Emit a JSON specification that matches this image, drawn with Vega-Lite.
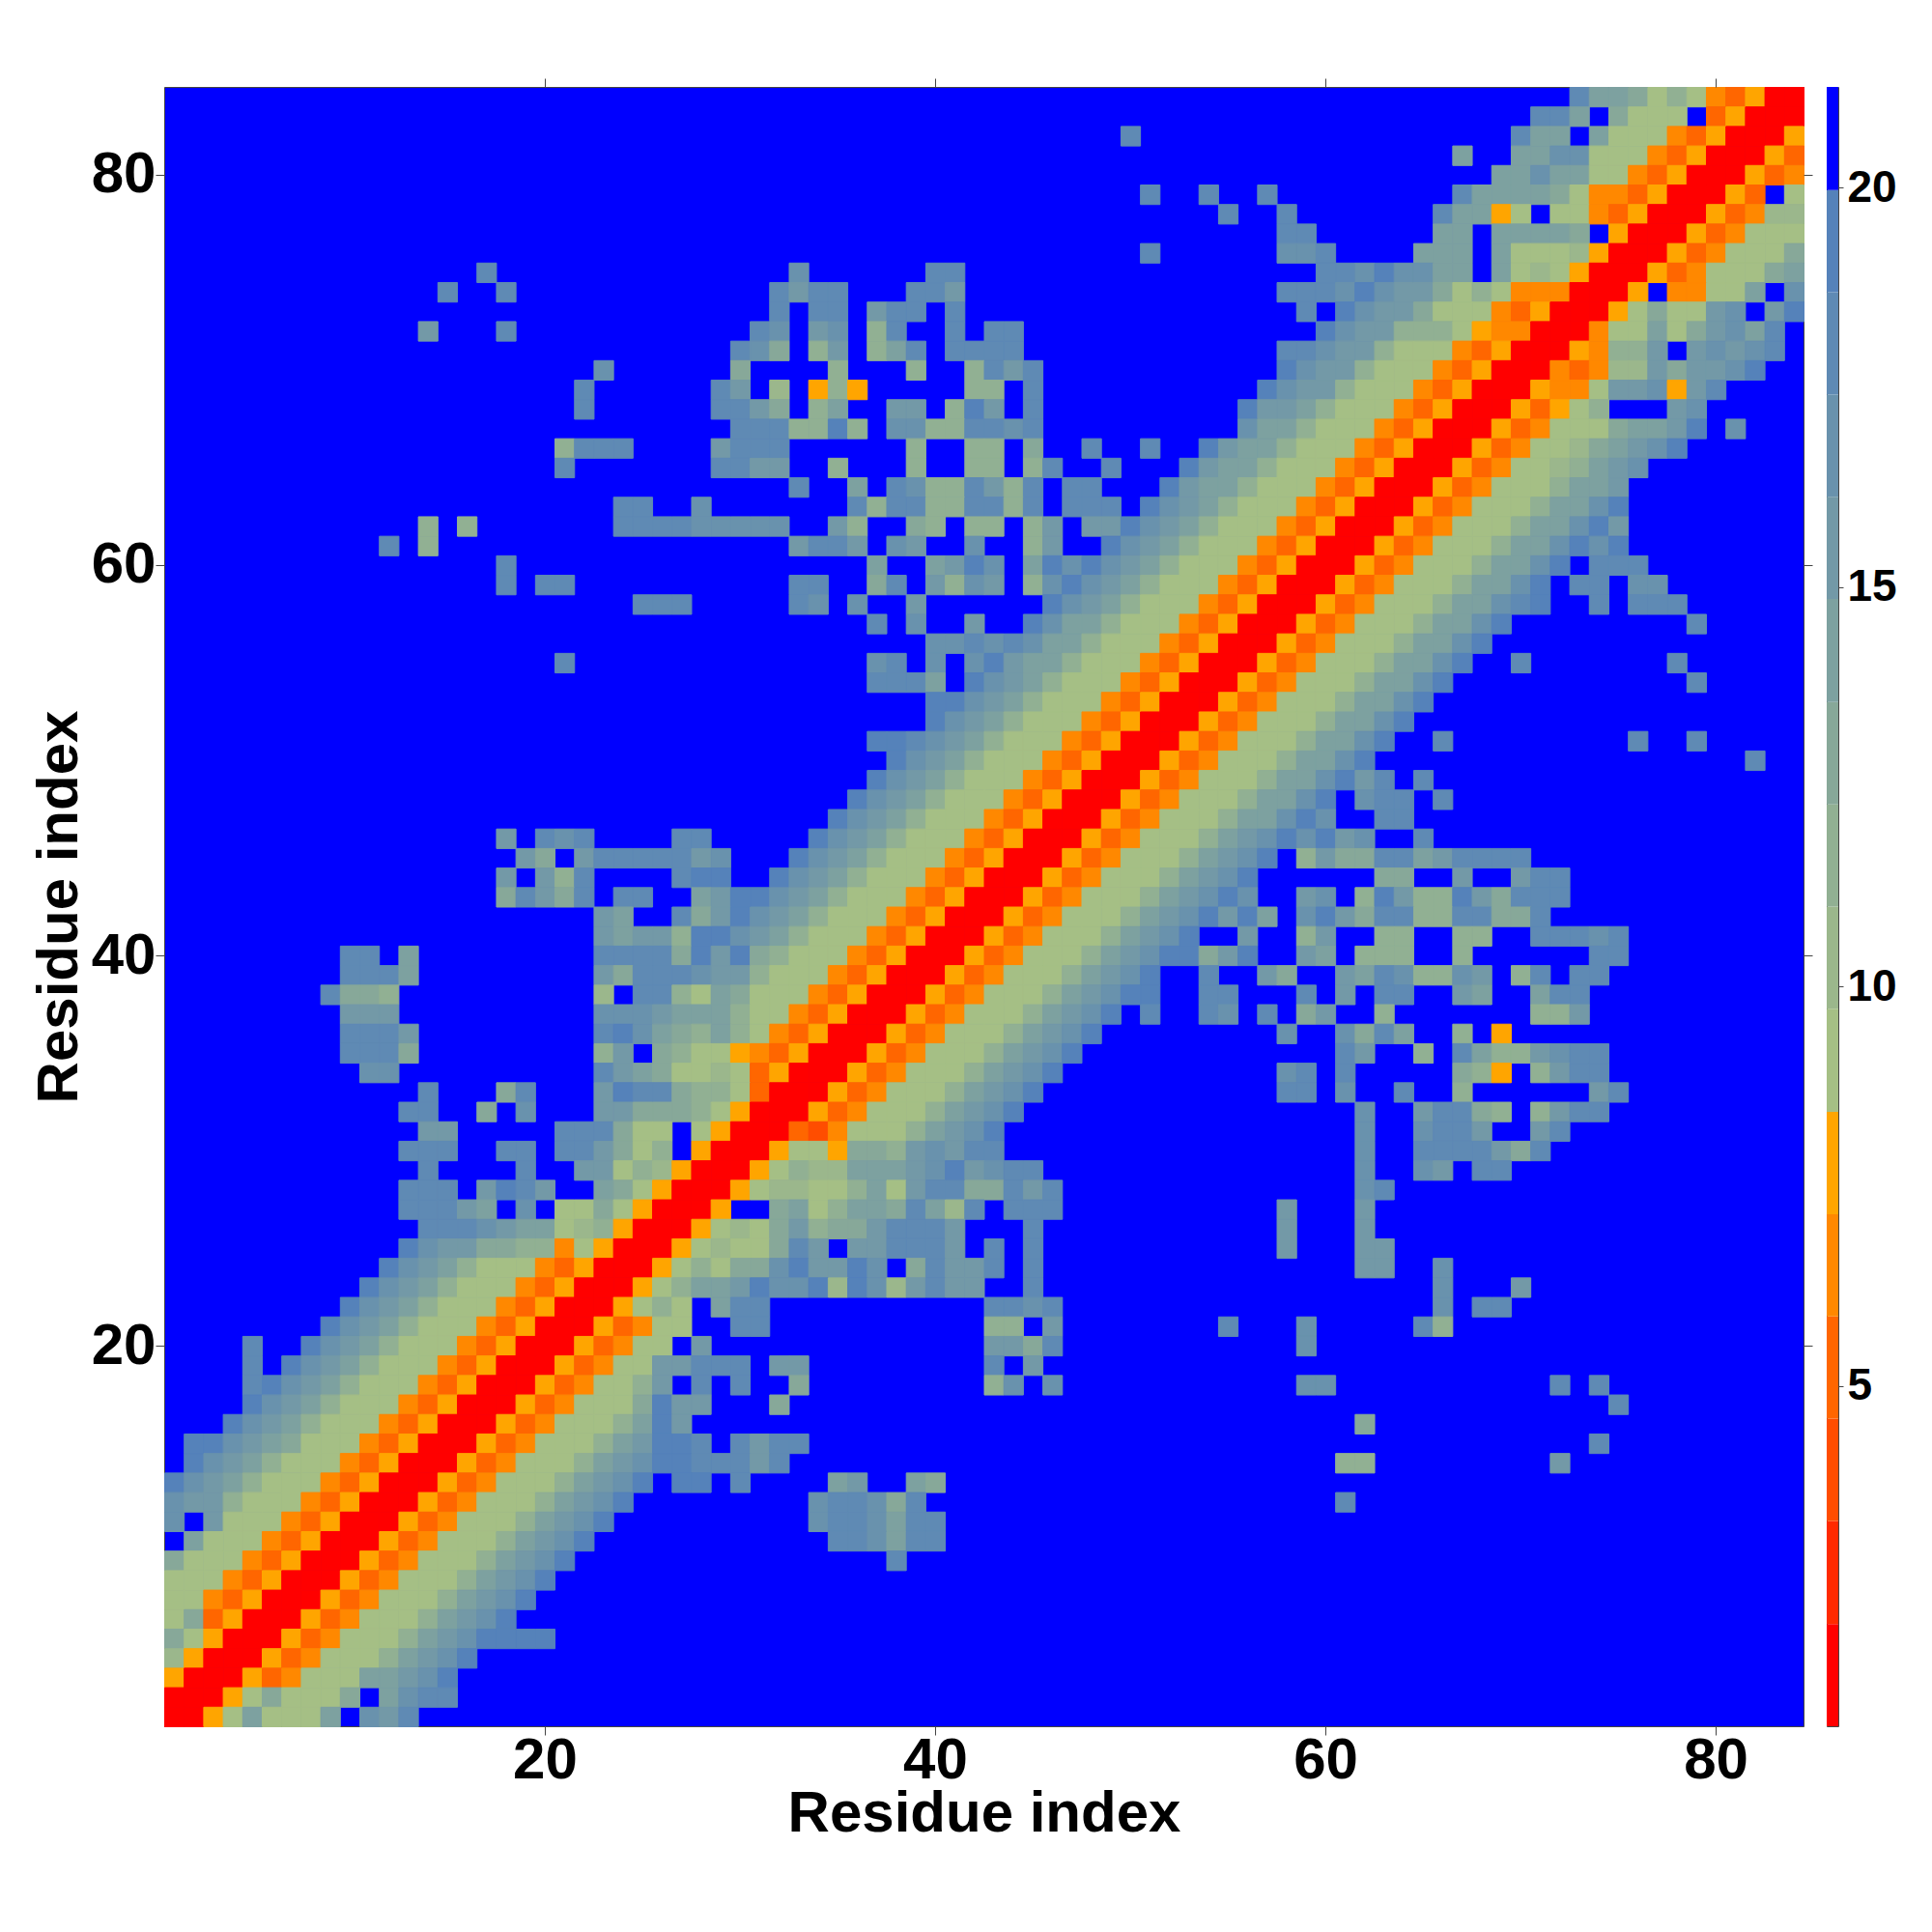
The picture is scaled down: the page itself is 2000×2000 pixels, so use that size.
{"$schema":"https://vega.github.io/schema/vega-lite/v6.json","background":"white","padding":{"left":30,"top":80,"right":0,"bottom":0},"spacing":13,"hconcat":[{"width":1697,"height":1697,"view":{"fill":"#0000ff","stroke":"#444444","strokeWidth":1},"layer":[{"data":{"values":[
{"x":73,"y":84,"d":18},{"x":74,"y":84,"d":14.2},{"x":75,"y":84,"d":14.2},{"x":76,"y":84,"d":12.9},{"x":77,"y":84,"d":9.1},{"x":78,"y":84,"d":11.6},{"x":79,"y":84,"d":9.1},{"x":80,"y":84,"d":6.5},{"x":81,"y":84,"d":5.2},{"x":82,"y":84,"d":7.8},{"x":83,"y":84,"d":1.4},{"x":84,"y":84,"d":1.4},
{"x":71,"y":83,"d":18},{"x":72,"y":83,"d":18},{"x":73,"y":83,"d":14.2},{"x":75,"y":83,"d":12.9},{"x":76,"y":83,"d":9.1},{"x":77,"y":83,"d":9.1},{"x":78,"y":83,"d":9.1},{"x":80,"y":83,"d":5.2},{"x":81,"y":83,"d":7.8},{"x":82,"y":83,"d":1.4},{"x":83,"y":83,"d":1.4},{"x":84,"y":83,"d":1.4},
{"x":50,"y":82,"d":18},{"x":70,"y":82,"d":18},{"x":71,"y":82,"d":14.2},{"x":72,"y":82,"d":14.2},{"x":74,"y":82,"d":14.2},{"x":75,"y":82,"d":9.1},{"x":76,"y":82,"d":9.1},{"x":77,"y":82,"d":9.1},{"x":78,"y":82,"d":6.5},{"x":79,"y":82,"d":5.2},{"x":80,"y":82,"d":7.8},{"x":81,"y":82,"d":1.4},{"x":82,"y":82,"d":1.4},{"x":83,"y":82,"d":1.4},{"x":84,"y":82,"d":7.8},
{"x":67,"y":81,"d":14.2},{"x":70,"y":81,"d":14.2},{"x":71,"y":81,"d":14.2},{"x":72,"y":81,"d":16.8},{"x":73,"y":81,"d":16.8},{"x":74,"y":81,"d":9.1},{"x":75,"y":81,"d":9.1},{"x":76,"y":81,"d":9.1},{"x":77,"y":81,"d":6.5},{"x":78,"y":81,"d":5.2},{"x":79,"y":81,"d":7.8},{"x":80,"y":81,"d":1.4},{"x":81,"y":81,"d":1.4},{"x":82,"y":81,"d":1.4},{"x":83,"y":81,"d":7.8},{"x":84,"y":81,"d":5.2},
{"x":69,"y":80,"d":14.2},{"x":70,"y":80,"d":14.2},{"x":71,"y":80,"d":16.8},{"x":72,"y":80,"d":14.2},{"x":73,"y":80,"d":14.2},{"x":74,"y":80,"d":9.1},{"x":75,"y":80,"d":9.1},{"x":76,"y":80,"d":6.5},{"x":77,"y":80,"d":5.2},{"x":78,"y":80,"d":7.8},{"x":79,"y":80,"d":1.4},{"x":80,"y":80,"d":1.4},{"x":81,"y":80,"d":1.4},{"x":82,"y":80,"d":7.8},{"x":83,"y":80,"d":5.2},{"x":84,"y":80,"d":6.5},
{"x":51,"y":79,"d":18},{"x":54,"y":79,"d":18},{"x":57,"y":79,"d":18},{"x":67,"y":79,"d":18},{"x":68,"y":79,"d":14.2},{"x":69,"y":79,"d":14.2},{"x":70,"y":79,"d":14.2},{"x":71,"y":79,"d":14.2},{"x":72,"y":79,"d":12.9},{"x":73,"y":79,"d":9.1},{"x":74,"y":79,"d":6.5},{"x":75,"y":79,"d":6.5},{"x":76,"y":79,"d":5.2},{"x":77,"y":79,"d":7.8},{"x":78,"y":79,"d":1.4},{"x":79,"y":79,"d":1.4},{"x":80,"y":79,"d":1.4},{"x":81,"y":79,"d":7.8},{"x":82,"y":79,"d":5.2},{"x":84,"y":79,"d":9.1},
{"x":55,"y":78,"d":18},{"x":58,"y":78,"d":18},{"x":66,"y":78,"d":18},{"x":67,"y":78,"d":14.2},{"x":68,"y":78,"d":14.2},{"x":69,"y":78,"d":7.8},{"x":70,"y":78,"d":9.1},{"x":72,"y":78,"d":9.1},{"x":73,"y":78,"d":9.1},{"x":74,"y":78,"d":6.5},{"x":75,"y":78,"d":5.2},{"x":76,"y":78,"d":7.8},{"x":77,"y":78,"d":1.4},{"x":78,"y":78,"d":1.4},{"x":79,"y":78,"d":1.4},{"x":80,"y":78,"d":7.8},{"x":81,"y":78,"d":5.2},{"x":82,"y":78,"d":6.5},{"x":83,"y":78,"d":10.4},{"x":84,"y":78,"d":10.4},
{"x":58,"y":77,"d":18},{"x":59,"y":77,"d":18},{"x":66,"y":77,"d":14.2},{"x":67,"y":77,"d":14.2},{"x":69,"y":77,"d":14.2},{"x":70,"y":77,"d":14.2},{"x":71,"y":77,"d":14.2},{"x":72,"y":77,"d":14.2},{"x":73,"y":77,"d":12.9},{"x":75,"y":77,"d":7.8},{"x":76,"y":77,"d":1.4},{"x":77,"y":77,"d":1.4},{"x":78,"y":77,"d":1.4},{"x":79,"y":77,"d":7.8},{"x":80,"y":77,"d":5.2},{"x":81,"y":77,"d":6.5},{"x":82,"y":77,"d":9.1},{"x":83,"y":77,"d":9.1},{"x":84,"y":77,"d":9.1},
{"x":51,"y":76,"d":18},{"x":58,"y":76,"d":16.8},{"x":59,"y":76,"d":16.8},{"x":60,"y":76,"d":18},{"x":65,"y":76,"d":14.2},{"x":66,"y":76,"d":14.2},{"x":67,"y":76,"d":14.2},{"x":69,"y":76,"d":14.2},{"x":70,"y":76,"d":9.1},{"x":71,"y":76,"d":9.1},{"x":72,"y":76,"d":9.1},{"x":73,"y":76,"d":10.4},{"x":74,"y":76,"d":7.8},{"x":75,"y":76,"d":1.4},{"x":76,"y":76,"d":1.4},{"x":77,"y":76,"d":1.4},{"x":78,"y":76,"d":7.8},{"x":79,"y":76,"d":5.2},{"x":80,"y":76,"d":6.5},{"x":81,"y":76,"d":9.1},{"x":82,"y":76,"d":9.1},{"x":83,"y":76,"d":9.1},{"x":84,"y":76,"d":12.9},
{"x":17,"y":75,"d":18},{"x":33,"y":75,"d":16.8},{"x":40,"y":75,"d":18},{"x":41,"y":75,"d":18},{"x":60,"y":75,"d":18},{"x":61,"y":75,"d":18},{"x":62,"y":75,"d":16.8},{"x":63,"y":75,"d":19.3},{"x":64,"y":75,"d":16.8},{"x":65,"y":75,"d":16.8},{"x":66,"y":75,"d":14.2},{"x":67,"y":75,"d":14.2},{"x":69,"y":75,"d":14.2},{"x":70,"y":75,"d":9.1},{"x":71,"y":75,"d":10.4},{"x":72,"y":75,"d":9.1},{"x":73,"y":75,"d":7.8},{"x":74,"y":75,"d":1.4},{"x":75,"y":75,"d":1.4},{"x":76,"y":75,"d":1.4},{"x":77,"y":75,"d":7.8},{"x":78,"y":75,"d":5.2},{"x":79,"y":75,"d":6.5},{"x":80,"y":75,"d":9.1},{"x":81,"y":75,"d":9.1},{"x":82,"y":75,"d":9.1},{"x":83,"y":75,"d":12.9},{"x":84,"y":75,"d":14.2},
{"x":15,"y":74,"d":18},{"x":18,"y":74,"d":18},{"x":32,"y":74,"d":18},{"x":33,"y":74,"d":15.5},{"x":34,"y":74,"d":18},{"x":35,"y":74,"d":18},{"x":39,"y":74,"d":18},{"x":40,"y":74,"d":18},{"x":41,"y":74,"d":15.5},{"x":58,"y":74,"d":18},{"x":59,"y":74,"d":18},{"x":60,"y":74,"d":18},{"x":61,"y":74,"d":16.8},{"x":62,"y":74,"d":19.3},{"x":63,"y":74,"d":16.8},{"x":64,"y":74,"d":15.5},{"x":65,"y":74,"d":15.5},{"x":66,"y":74,"d":12.9},{"x":67,"y":74,"d":9.1},{"x":68,"y":74,"d":11.6},{"x":69,"y":74,"d":9.1},{"x":70,"y":74,"d":6.5},{"x":71,"y":74,"d":6.5},{"x":72,"y":74,"d":6.5},{"x":73,"y":74,"d":1.4},{"x":74,"y":74,"d":1.4},{"x":75,"y":74,"d":1.4},{"x":76,"y":74,"d":7.8},{"x":78,"y":74,"d":6.5},{"x":79,"y":74,"d":6.5},{"x":80,"y":74,"d":9.1},{"x":81,"y":74,"d":9.1},{"x":82,"y":74,"d":14.2},{"x":84,"y":74,"d":16.8},
{"x":32,"y":73,"d":18},{"x":34,"y":73,"d":18},{"x":35,"y":73,"d":18},{"x":37,"y":73,"d":15.5},{"x":38,"y":73,"d":18},{"x":39,"y":73,"d":18},{"x":41,"y":73,"d":18},{"x":59,"y":73,"d":18},{"x":61,"y":73,"d":19.3},{"x":62,"y":73,"d":16.8},{"x":63,"y":73,"d":15.5},{"x":64,"y":73,"d":15.5},{"x":65,"y":73,"d":12.9},{"x":66,"y":73,"d":9.1},{"x":67,"y":73,"d":9.1},{"x":68,"y":73,"d":9.1},{"x":69,"y":73,"d":6.5},{"x":70,"y":73,"d":5.2},{"x":71,"y":73,"d":7.8},{"x":72,"y":73,"d":1.4},{"x":73,"y":73,"d":1.4},{"x":74,"y":73,"d":1.4},{"x":75,"y":73,"d":7.8},{"x":76,"y":73,"d":9.1},{"x":77,"y":73,"d":12.9},{"x":78,"y":73,"d":9.1},{"x":79,"y":73,"d":9.1},{"x":80,"y":73,"d":15.5},{"x":81,"y":73,"d":16.8},{"x":83,"y":73,"d":15.5},{"x":84,"y":73,"d":19.3},
{"x":14,"y":72,"d":15.5},{"x":18,"y":72,"d":18},{"x":31,"y":72,"d":18},{"x":32,"y":72,"d":16.8},{"x":34,"y":72,"d":15.5},{"x":35,"y":72,"d":16.8},{"x":37,"y":72,"d":11.6},{"x":38,"y":72,"d":18},{"x":41,"y":72,"d":18},{"x":43,"y":72,"d":18},{"x":44,"y":72,"d":18},{"x":60,"y":72,"d":19.3},{"x":61,"y":72,"d":16.8},{"x":62,"y":72,"d":15.5},{"x":63,"y":72,"d":15.5},{"x":64,"y":72,"d":11.6},{"x":65,"y":72,"d":11.6},{"x":66,"y":72,"d":11.6},{"x":67,"y":72,"d":9.1},{"x":68,"y":72,"d":7.8},{"x":69,"y":72,"d":6.5},{"x":70,"y":72,"d":6.5},{"x":71,"y":72,"d":1.4},{"x":72,"y":72,"d":1.4},{"x":73,"y":72,"d":1.4},{"x":74,"y":72,"d":6.5},{"x":75,"y":72,"d":9.1},{"x":76,"y":72,"d":9.1},{"x":77,"y":72,"d":14.2},{"x":78,"y":72,"d":9.1},{"x":79,"y":72,"d":12.9},{"x":80,"y":72,"d":15.5},{"x":81,"y":72,"d":16.8},{"x":82,"y":72,"d":14.2},{"x":83,"y":72,"d":18},
{"x":30,"y":71,"d":18},{"x":31,"y":71,"d":16.8},{"x":32,"y":71,"d":12.9},{"x":34,"y":71,"d":11.6},{"x":35,"y":71,"d":15.5},{"x":37,"y":71,"d":11.6},{"x":38,"y":71,"d":14.2},{"x":39,"y":71,"d":18},{"x":41,"y":71,"d":18},{"x":42,"y":71,"d":18},{"x":43,"y":71,"d":18},{"x":44,"y":71,"d":18},{"x":58,"y":71,"d":18},{"x":59,"y":71,"d":18},{"x":60,"y":71,"d":16.8},{"x":61,"y":71,"d":15.5},{"x":62,"y":71,"d":15.5},{"x":63,"y":71,"d":11.6},{"x":64,"y":71,"d":9.1},{"x":65,"y":71,"d":9.1},{"x":66,"y":71,"d":9.1},{"x":67,"y":71,"d":6.5},{"x":68,"y":71,"d":5.2},{"x":69,"y":71,"d":7.8},{"x":70,"y":71,"d":1.4},{"x":71,"y":71,"d":1.4},{"x":72,"y":71,"d":1.4},{"x":73,"y":71,"d":7.8},{"x":74,"y":71,"d":6.5},{"x":75,"y":71,"d":11.6},{"x":76,"y":71,"d":11.6},{"x":77,"y":71,"d":15.5},{"x":79,"y":71,"d":15.5},{"x":80,"y":71,"d":16.8},{"x":81,"y":71,"d":15.5},{"x":82,"y":71,"d":16.8},{"x":83,"y":71,"d":18},
{"x":23,"y":70,"d":16.8},{"x":30,"y":70,"d":12.9},{"x":35,"y":70,"d":11.6},{"x":39,"y":70,"d":11.6},{"x":42,"y":70,"d":11.6},{"x":43,"y":70,"d":18},{"x":44,"y":70,"d":15.5},{"x":45,"y":70,"d":18},{"x":58,"y":70,"d":19.3},{"x":59,"y":70,"d":16.8},{"x":60,"y":70,"d":15.5},{"x":61,"y":70,"d":15.5},{"x":62,"y":70,"d":11.6},{"x":63,"y":70,"d":9.1},{"x":64,"y":70,"d":9.1},{"x":65,"y":70,"d":9.1},{"x":66,"y":70,"d":6.5},{"x":67,"y":70,"d":5.2},{"x":68,"y":70,"d":7.8},{"x":69,"y":70,"d":1.4},{"x":70,"y":70,"d":1.4},{"x":71,"y":70,"d":1.4},{"x":72,"y":70,"d":6.5},{"x":73,"y":70,"d":5.2},{"x":74,"y":70,"d":6.5},{"x":75,"y":70,"d":10.4},{"x":76,"y":70,"d":10.4},{"x":77,"y":70,"d":15.5},{"x":78,"y":70,"d":12.9},{"x":79,"y":70,"d":15.5},{"x":80,"y":70,"d":15.5},{"x":81,"y":70,"d":16.8},{"x":82,"y":70,"d":19.3},
{"x":22,"y":69,"d":18},{"x":29,"y":69,"d":18},{"x":30,"y":69,"d":15.5},{"x":32,"y":69,"d":10.4},{"x":34,"y":69,"d":7.8},{"x":35,"y":69,"d":11.6},{"x":36,"y":69,"d":7.8},{"x":42,"y":69,"d":11.6},{"x":43,"y":69,"d":11.6},{"x":45,"y":69,"d":18},{"x":57,"y":69,"d":19.3},{"x":58,"y":69,"d":16.8},{"x":59,"y":69,"d":15.5},{"x":60,"y":69,"d":15.5},{"x":61,"y":69,"d":11.6},{"x":62,"y":69,"d":9.1},{"x":63,"y":69,"d":9.1},{"x":64,"y":69,"d":9.1},{"x":65,"y":69,"d":6.5},{"x":66,"y":69,"d":5.2},{"x":67,"y":69,"d":7.8},{"x":68,"y":69,"d":1.4},{"x":69,"y":69,"d":1.4},{"x":70,"y":69,"d":1.4},{"x":71,"y":69,"d":7.8},{"x":72,"y":69,"d":6.5},{"x":73,"y":69,"d":6.5},{"x":74,"y":69,"d":9.1},{"x":75,"y":69,"d":15.5},{"x":76,"y":69,"d":15.5},{"x":77,"y":69,"d":16.8},{"x":78,"y":69,"d":7.8},{"x":79,"y":69,"d":15.5},{"x":80,"y":69,"d":18},
{"x":22,"y":68,"d":18},{"x":29,"y":68,"d":18},{"x":30,"y":68,"d":18},{"x":31,"y":68,"d":15.5},{"x":32,"y":68,"d":12.9},{"x":34,"y":68,"d":11.6},{"x":35,"y":68,"d":14.2},{"x":38,"y":68,"d":15.5},{"x":39,"y":68,"d":15.5},{"x":41,"y":68,"d":11.6},{"x":42,"y":68,"d":19.3},{"x":43,"y":68,"d":15.5},{"x":45,"y":68,"d":18},{"x":56,"y":68,"d":19.3},{"x":57,"y":68,"d":15.5},{"x":58,"y":68,"d":15.5},{"x":59,"y":68,"d":14.2},{"x":60,"y":68,"d":11.6},{"x":61,"y":68,"d":9.1},{"x":62,"y":68,"d":9.1},{"x":63,"y":68,"d":9.1},{"x":64,"y":68,"d":6.5},{"x":65,"y":68,"d":5.2},{"x":66,"y":68,"d":7.8},{"x":67,"y":68,"d":1.4},{"x":68,"y":68,"d":1.4},{"x":69,"y":68,"d":1.4},{"x":70,"y":68,"d":7.8},{"x":71,"y":68,"d":5.2},{"x":72,"y":68,"d":7.8},{"x":73,"y":68,"d":9.1},{"x":74,"y":68,"d":11.6},{"x":78,"y":68,"d":15.5},{"x":79,"y":68,"d":16.8},
{"x":30,"y":67,"d":18},{"x":31,"y":67,"d":18},{"x":32,"y":67,"d":18},{"x":33,"y":67,"d":11.6},{"x":34,"y":67,"d":11.6},{"x":35,"y":67,"d":19.3},{"x":36,"y":67,"d":11.6},{"x":38,"y":67,"d":16.8},{"x":39,"y":67,"d":16.8},{"x":40,"y":67,"d":11.6},{"x":41,"y":67,"d":11.6},{"x":42,"y":67,"d":18},{"x":43,"y":67,"d":18},{"x":44,"y":67,"d":16.8},{"x":45,"y":67,"d":18},{"x":56,"y":67,"d":16.8},{"x":57,"y":67,"d":14.2},{"x":58,"y":67,"d":14.2},{"x":59,"y":67,"d":11.6},{"x":60,"y":67,"d":9.1},{"x":61,"y":67,"d":9.1},{"x":62,"y":67,"d":9.1},{"x":63,"y":67,"d":6.5},{"x":64,"y":67,"d":5.2},{"x":65,"y":67,"d":7.8},{"x":66,"y":67,"d":1.4},{"x":67,"y":67,"d":1.4},{"x":68,"y":67,"d":1.4},{"x":69,"y":67,"d":7.8},{"x":70,"y":67,"d":5.2},{"x":71,"y":67,"d":6.5},{"x":72,"y":67,"d":9.1},{"x":73,"y":67,"d":9.1},{"x":74,"y":67,"d":9.1},{"x":75,"y":67,"d":12.9},{"x":76,"y":67,"d":14.2},{"x":77,"y":67,"d":14.2},{"x":78,"y":67,"d":15.5},{"x":79,"y":67,"d":19.3},{"x":81,"y":67,"d":16.8},
{"x":21,"y":66,"d":11.6},{"x":22,"y":66,"d":18},{"x":23,"y":66,"d":18},{"x":24,"y":66,"d":18},{"x":29,"y":66,"d":15.5},{"x":30,"y":66,"d":18},{"x":31,"y":66,"d":18},{"x":32,"y":66,"d":18},{"x":39,"y":66,"d":11.6},{"x":42,"y":66,"d":11.6},{"x":43,"y":66,"d":11.6},{"x":45,"y":66,"d":12.9},{"x":48,"y":66,"d":18},{"x":51,"y":66,"d":18},{"x":54,"y":66,"d":19.3},{"x":55,"y":66,"d":15.5},{"x":56,"y":66,"d":14.2},{"x":57,"y":66,"d":14.2},{"x":58,"y":66,"d":11.6},{"x":59,"y":66,"d":9.1},{"x":60,"y":66,"d":9.1},{"x":61,"y":66,"d":9.1},{"x":62,"y":66,"d":6.5},{"x":63,"y":66,"d":5.2},{"x":64,"y":66,"d":7.8},{"x":65,"y":66,"d":1.4},{"x":66,"y":66,"d":1.4},{"x":67,"y":66,"d":1.4},{"x":68,"y":66,"d":7.8},{"x":69,"y":66,"d":5.2},{"x":70,"y":66,"d":6.5},{"x":71,"y":66,"d":9.1},{"x":72,"y":66,"d":9.1},{"x":73,"y":66,"d":10.4},{"x":74,"y":66,"d":12.9},{"x":75,"y":66,"d":14.2},{"x":76,"y":66,"d":15.5},{"x":77,"y":66,"d":16.8},{"x":78,"y":66,"d":19.3},
{"x":21,"y":65,"d":18},{"x":29,"y":65,"d":18},{"x":30,"y":65,"d":18},{"x":31,"y":65,"d":15.5},{"x":32,"y":65,"d":15.5},{"x":35,"y":65,"d":11.6},{"x":39,"y":65,"d":11.6},{"x":42,"y":65,"d":11.6},{"x":43,"y":65,"d":11.6},{"x":45,"y":65,"d":11.6},{"x":46,"y":65,"d":18},{"x":49,"y":65,"d":18},{"x":53,"y":65,"d":19.3},{"x":54,"y":65,"d":15.5},{"x":55,"y":65,"d":14.2},{"x":56,"y":65,"d":14.2},{"x":57,"y":65,"d":11.6},{"x":58,"y":65,"d":9.1},{"x":59,"y":65,"d":9.1},{"x":60,"y":65,"d":9.1},{"x":61,"y":65,"d":6.5},{"x":62,"y":65,"d":5.2},{"x":63,"y":65,"d":7.8},{"x":64,"y":65,"d":1.4},{"x":65,"y":65,"d":1.4},{"x":66,"y":65,"d":1.4},{"x":67,"y":65,"d":7.8},{"x":68,"y":65,"d":5.2},{"x":69,"y":65,"d":6.5},{"x":70,"y":65,"d":9.1},{"x":71,"y":65,"d":9.1},{"x":72,"y":65,"d":10.4},{"x":73,"y":65,"d":11.6},{"x":74,"y":65,"d":14.2},{"x":75,"y":65,"d":15.5},{"x":76,"y":65,"d":16.8},
{"x":33,"y":64,"d":18},{"x":36,"y":64,"d":14.2},{"x":38,"y":64,"d":18},{"x":39,"y":64,"d":16.8},{"x":40,"y":64,"d":11.6},{"x":41,"y":64,"d":11.6},{"x":42,"y":64,"d":18},{"x":43,"y":64,"d":15.5},{"x":44,"y":64,"d":11.6},{"x":45,"y":64,"d":18},{"x":47,"y":64,"d":18},{"x":48,"y":64,"d":18},{"x":52,"y":64,"d":19.3},{"x":53,"y":64,"d":15.5},{"x":54,"y":64,"d":14.2},{"x":55,"y":64,"d":14.2},{"x":56,"y":64,"d":11.6},{"x":57,"y":64,"d":9.1},{"x":58,"y":64,"d":9.1},{"x":59,"y":64,"d":9.1},{"x":60,"y":64,"d":6.5},{"x":61,"y":64,"d":5.2},{"x":62,"y":64,"d":7.8},{"x":63,"y":64,"d":1.4},{"x":64,"y":64,"d":1.4},{"x":65,"y":64,"d":1.4},{"x":66,"y":64,"d":7.8},{"x":67,"y":64,"d":5.2},{"x":68,"y":64,"d":6.5},{"x":69,"y":64,"d":9.1},{"x":70,"y":64,"d":9.1},{"x":71,"y":64,"d":9.1},{"x":72,"y":64,"d":11.6},{"x":73,"y":64,"d":14.2},{"x":74,"y":64,"d":14.2},{"x":75,"y":64,"d":15.5},
{"x":24,"y":63,"d":18},{"x":25,"y":63,"d":18},{"x":28,"y":63,"d":16.8},{"x":36,"y":63,"d":18},{"x":37,"y":63,"d":11.6},{"x":38,"y":63,"d":18},{"x":39,"y":63,"d":18},{"x":40,"y":63,"d":11.6},{"x":41,"y":63,"d":11.6},{"x":42,"y":63,"d":18},{"x":43,"y":63,"d":18},{"x":44,"y":63,"d":11.6},{"x":45,"y":63,"d":18},{"x":47,"y":63,"d":18},{"x":48,"y":63,"d":18},{"x":49,"y":63,"d":18},{"x":51,"y":63,"d":19.3},{"x":52,"y":63,"d":16.8},{"x":53,"y":63,"d":15.5},{"x":54,"y":63,"d":14.2},{"x":55,"y":63,"d":11.6},{"x":56,"y":63,"d":9.1},{"x":57,"y":63,"d":9.1},{"x":58,"y":63,"d":9.1},{"x":59,"y":63,"d":6.5},{"x":60,"y":63,"d":5.2},{"x":61,"y":63,"d":7.8},{"x":62,"y":63,"d":1.4},{"x":63,"y":63,"d":1.4},{"x":64,"y":63,"d":1.4},{"x":65,"y":63,"d":7.8},{"x":66,"y":63,"d":5.2},{"x":67,"y":63,"d":6.5},{"x":68,"y":63,"d":9.1},{"x":69,"y":63,"d":9.1},{"x":70,"y":63,"d":9.1},{"x":71,"y":63,"d":11.6},{"x":72,"y":63,"d":14.2},{"x":73,"y":63,"d":14.2},{"x":74,"y":63,"d":16.8},{"x":75,"y":63,"d":19.3},
{"x":14,"y":62,"d":11.6},{"x":16,"y":62,"d":11.6},{"x":24,"y":62,"d":18},{"x":25,"y":62,"d":18},{"x":26,"y":62,"d":18},{"x":27,"y":62,"d":18},{"x":28,"y":62,"d":16.8},{"x":29,"y":62,"d":16.8},{"x":30,"y":62,"d":16.8},{"x":31,"y":62,"d":16.8},{"x":32,"y":62,"d":16.8},{"x":35,"y":62,"d":15.5},{"x":36,"y":62,"d":11.6},{"x":39,"y":62,"d":12.9},{"x":40,"y":62,"d":11.6},{"x":42,"y":62,"d":11.6},{"x":43,"y":62,"d":11.6},{"x":45,"y":62,"d":11.6},{"x":46,"y":62,"d":15.5},{"x":48,"y":62,"d":15.5},{"x":49,"y":62,"d":15.5},{"x":50,"y":62,"d":19.3},{"x":51,"y":62,"d":16.8},{"x":52,"y":62,"d":15.5},{"x":53,"y":62,"d":14.2},{"x":54,"y":62,"d":11.6},{"x":55,"y":62,"d":9.1},{"x":56,"y":62,"d":9.1},{"x":57,"y":62,"d":9.1},{"x":58,"y":62,"d":6.5},{"x":59,"y":62,"d":5.2},{"x":60,"y":62,"d":7.8},{"x":61,"y":62,"d":1.4},{"x":62,"y":62,"d":1.4},{"x":63,"y":62,"d":1.4},{"x":64,"y":62,"d":7.8},{"x":65,"y":62,"d":5.2},{"x":66,"y":62,"d":6.5},{"x":67,"y":62,"d":9.1},{"x":68,"y":62,"d":9.1},{"x":69,"y":62,"d":9.1},{"x":70,"y":62,"d":11.6},{"x":71,"y":62,"d":14.2},{"x":72,"y":62,"d":14.2},{"x":73,"y":62,"d":16.8},{"x":74,"y":62,"d":19.3},{"x":75,"y":62,"d":15.5},
{"x":12,"y":61,"d":18},{"x":14,"y":61,"d":11.6},{"x":33,"y":61,"d":15.5},{"x":34,"y":61,"d":18},{"x":35,"y":61,"d":18},{"x":36,"y":61,"d":15.5},{"x":38,"y":61,"d":16.8},{"x":39,"y":61,"d":15.5},{"x":42,"y":61,"d":16.8},{"x":45,"y":61,"d":11.6},{"x":46,"y":61,"d":15.5},{"x":49,"y":61,"d":19.3},{"x":50,"y":61,"d":16.8},{"x":51,"y":61,"d":15.5},{"x":52,"y":61,"d":14.2},{"x":53,"y":61,"d":11.6},{"x":54,"y":61,"d":9.1},{"x":55,"y":61,"d":9.1},{"x":56,"y":61,"d":9.1},{"x":57,"y":61,"d":6.5},{"x":58,"y":61,"d":5.2},{"x":59,"y":61,"d":7.8},{"x":60,"y":61,"d":1.4},{"x":61,"y":61,"d":1.4},{"x":62,"y":61,"d":1.4},{"x":63,"y":61,"d":7.8},{"x":64,"y":61,"d":5.2},{"x":65,"y":61,"d":6.5},{"x":66,"y":61,"d":9.1},{"x":67,"y":61,"d":9.1},{"x":68,"y":61,"d":9.1},{"x":69,"y":61,"d":11.6},{"x":70,"y":61,"d":14.2},{"x":71,"y":61,"d":14.2},{"x":72,"y":61,"d":16.8},{"x":73,"y":61,"d":19.3},{"x":74,"y":61,"d":16.8},{"x":75,"y":61,"d":19.3},
{"x":18,"y":60,"d":18},{"x":37,"y":60,"d":14.2},{"x":40,"y":60,"d":14.2},{"x":41,"y":60,"d":15.5},{"x":42,"y":60,"d":19.3},{"x":43,"y":60,"d":16.8},{"x":45,"y":60,"d":14.2},{"x":46,"y":60,"d":19.3},{"x":47,"y":60,"d":16.8},{"x":48,"y":60,"d":19.3},{"x":49,"y":60,"d":16.8},{"x":50,"y":60,"d":15.5},{"x":51,"y":60,"d":14.2},{"x":52,"y":60,"d":11.6},{"x":53,"y":60,"d":9.1},{"x":54,"y":60,"d":9.1},{"x":55,"y":60,"d":9.1},{"x":56,"y":60,"d":6.5},{"x":57,"y":60,"d":5.2},{"x":58,"y":60,"d":7.8},{"x":59,"y":60,"d":1.4},{"x":60,"y":60,"d":1.4},{"x":61,"y":60,"d":1.4},{"x":62,"y":60,"d":7.8},{"x":63,"y":60,"d":5.2},{"x":64,"y":60,"d":6.5},{"x":65,"y":60,"d":9.1},{"x":66,"y":60,"d":9.1},{"x":67,"y":60,"d":9.1},{"x":68,"y":60,"d":11.6},{"x":69,"y":60,"d":14.2},{"x":70,"y":60,"d":14.2},{"x":71,"y":60,"d":16.8},{"x":72,"y":60,"d":19.3},{"x":74,"y":60,"d":18},{"x":75,"y":60,"d":18},{"x":76,"y":60,"d":18},
{"x":18,"y":59,"d":18},{"x":20,"y":59,"d":18},{"x":21,"y":59,"d":18},{"x":33,"y":59,"d":18},{"x":34,"y":59,"d":18},{"x":37,"y":59,"d":12.9},{"x":38,"y":59,"d":18},{"x":40,"y":59,"d":15.5},{"x":41,"y":59,"d":11.6},{"x":42,"y":59,"d":16.8},{"x":43,"y":59,"d":15.5},{"x":45,"y":59,"d":11.6},{"x":46,"y":59,"d":16.8},{"x":47,"y":59,"d":19.3},{"x":48,"y":59,"d":16.8},{"x":49,"y":59,"d":15.5},{"x":50,"y":59,"d":14.2},{"x":51,"y":59,"d":11.6},{"x":52,"y":59,"d":9.1},{"x":53,"y":59,"d":9.1},{"x":54,"y":59,"d":9.1},{"x":55,"y":59,"d":6.5},{"x":56,"y":59,"d":5.2},{"x":57,"y":59,"d":7.8},{"x":58,"y":59,"d":1.4},{"x":59,"y":59,"d":1.4},{"x":60,"y":59,"d":1.4},{"x":61,"y":59,"d":7.8},{"x":62,"y":59,"d":5.2},{"x":63,"y":59,"d":6.5},{"x":64,"y":59,"d":9.1},{"x":65,"y":59,"d":9.1},{"x":66,"y":59,"d":9.1},{"x":67,"y":59,"d":11.6},{"x":68,"y":59,"d":14.2},{"x":69,"y":59,"d":14.2},{"x":70,"y":59,"d":16.8},{"x":71,"y":59,"d":19.3},{"x":73,"y":59,"d":18},{"x":74,"y":59,"d":18},{"x":76,"y":59,"d":16.8},{"x":77,"y":59,"d":16.8},
{"x":25,"y":58,"d":18},{"x":26,"y":58,"d":18},{"x":27,"y":58,"d":18},{"x":33,"y":58,"d":18},{"x":34,"y":58,"d":16.8},{"x":36,"y":58,"d":16.8},{"x":39,"y":58,"d":15.5},{"x":46,"y":58,"d":19.3},{"x":47,"y":58,"d":16.8},{"x":48,"y":58,"d":15.5},{"x":49,"y":58,"d":14.2},{"x":50,"y":58,"d":11.6},{"x":51,"y":58,"d":9.1},{"x":52,"y":58,"d":9.1},{"x":53,"y":58,"d":9.1},{"x":54,"y":58,"d":6.5},{"x":55,"y":58,"d":5.2},{"x":56,"y":58,"d":7.8},{"x":57,"y":58,"d":1.4},{"x":58,"y":58,"d":1.4},{"x":59,"y":58,"d":1.4},{"x":60,"y":58,"d":7.8},{"x":61,"y":58,"d":5.2},{"x":62,"y":58,"d":6.5},{"x":63,"y":58,"d":9.1},{"x":64,"y":58,"d":9.1},{"x":65,"y":58,"d":9.1},{"x":66,"y":58,"d":11.6},{"x":67,"y":58,"d":14.2},{"x":68,"y":58,"d":14.2},{"x":69,"y":58,"d":16.8},{"x":70,"y":58,"d":18},{"x":71,"y":58,"d":19.3},{"x":74,"y":58,"d":18},{"x":76,"y":58,"d":18},{"x":77,"y":58,"d":18},{"x":78,"y":58,"d":18},
{"x":37,"y":57,"d":18},{"x":39,"y":57,"d":16.8},{"x":42,"y":57,"d":15.5},{"x":45,"y":57,"d":19.3},{"x":46,"y":57,"d":16.8},{"x":47,"y":57,"d":14.2},{"x":48,"y":57,"d":14.2},{"x":49,"y":57,"d":11.6},{"x":50,"y":57,"d":9.1},{"x":51,"y":57,"d":9.1},{"x":52,"y":57,"d":9.1},{"x":53,"y":57,"d":6.5},{"x":54,"y":57,"d":5.2},{"x":55,"y":57,"d":7.8},{"x":56,"y":57,"d":1.4},{"x":57,"y":57,"d":1.4},{"x":58,"y":57,"d":1.4},{"x":59,"y":57,"d":7.8},{"x":60,"y":57,"d":5.2},{"x":61,"y":57,"d":6.5},{"x":62,"y":57,"d":9.1},{"x":63,"y":57,"d":9.1},{"x":64,"y":57,"d":9.1},{"x":65,"y":57,"d":11.6},{"x":66,"y":57,"d":14.2},{"x":67,"y":57,"d":14.2},{"x":68,"y":57,"d":16.8},{"x":69,"y":57,"d":19.3},{"x":79,"y":57,"d":18},
{"x":40,"y":56,"d":16.8},{"x":41,"y":56,"d":16.8},{"x":42,"y":56,"d":18},{"x":43,"y":56,"d":16.8},{"x":44,"y":56,"d":18},{"x":45,"y":56,"d":16.8},{"x":46,"y":56,"d":14.2},{"x":47,"y":56,"d":14.2},{"x":48,"y":56,"d":11.6},{"x":49,"y":56,"d":9.1},{"x":50,"y":56,"d":9.1},{"x":51,"y":56,"d":9.1},{"x":52,"y":56,"d":6.5},{"x":53,"y":56,"d":5.2},{"x":54,"y":56,"d":7.8},{"x":55,"y":56,"d":1.4},{"x":56,"y":56,"d":1.4},{"x":57,"y":56,"d":1.4},{"x":58,"y":56,"d":7.8},{"x":59,"y":56,"d":5.2},{"x":60,"y":56,"d":6.5},{"x":61,"y":56,"d":9.1},{"x":62,"y":56,"d":9.1},{"x":63,"y":56,"d":9.1},{"x":64,"y":56,"d":11.6},{"x":65,"y":56,"d":14.2},{"x":66,"y":56,"d":14.2},{"x":67,"y":56,"d":16.8},{"x":68,"y":56,"d":19.3},
{"x":21,"y":55,"d":18},{"x":37,"y":55,"d":16.8},{"x":38,"y":55,"d":18},{"x":40,"y":55,"d":16.8},{"x":42,"y":55,"d":16.8},{"x":43,"y":55,"d":19.3},{"x":44,"y":55,"d":15.5},{"x":45,"y":55,"d":14.2},{"x":46,"y":55,"d":14.2},{"x":47,"y":55,"d":11.6},{"x":48,"y":55,"d":9.1},{"x":49,"y":55,"d":9.1},{"x":50,"y":55,"d":9.1},{"x":51,"y":55,"d":6.5},{"x":52,"y":55,"d":5.2},{"x":53,"y":55,"d":7.8},{"x":54,"y":55,"d":1.4},{"x":55,"y":55,"d":1.4},{"x":56,"y":55,"d":1.4},{"x":57,"y":55,"d":7.8},{"x":58,"y":55,"d":5.2},{"x":59,"y":55,"d":6.5},{"x":60,"y":55,"d":9.1},{"x":61,"y":55,"d":9.1},{"x":62,"y":55,"d":9.1},{"x":63,"y":55,"d":11.6},{"x":64,"y":55,"d":14.2},{"x":65,"y":55,"d":14.2},{"x":66,"y":55,"d":16.8},{"x":67,"y":55,"d":19.3},{"x":70,"y":55,"d":18},{"x":78,"y":55,"d":18},
{"x":37,"y":54,"d":18},{"x":38,"y":54,"d":18},{"x":39,"y":54,"d":18},{"x":40,"y":54,"d":14.2},{"x":42,"y":54,"d":19.3},{"x":43,"y":54,"d":16.8},{"x":44,"y":54,"d":15.5},{"x":45,"y":54,"d":14.2},{"x":46,"y":54,"d":11.6},{"x":47,"y":54,"d":9.1},{"x":48,"y":54,"d":9.1},{"x":49,"y":54,"d":9.1},{"x":50,"y":54,"d":6.5},{"x":51,"y":54,"d":5.2},{"x":52,"y":54,"d":7.8},{"x":53,"y":54,"d":1.4},{"x":54,"y":54,"d":1.4},{"x":55,"y":54,"d":1.4},{"x":56,"y":54,"d":7.8},{"x":57,"y":54,"d":5.2},{"x":58,"y":54,"d":6.5},{"x":59,"y":54,"d":9.1},{"x":60,"y":54,"d":9.1},{"x":61,"y":54,"d":9.1},{"x":62,"y":54,"d":11.6},{"x":63,"y":54,"d":14.2},{"x":64,"y":54,"d":14.2},{"x":65,"y":54,"d":16.8},{"x":66,"y":54,"d":19.3},{"x":79,"y":54,"d":18},
{"x":40,"y":53,"d":19.3},{"x":41,"y":53,"d":19.3},{"x":42,"y":53,"d":16.8},{"x":43,"y":53,"d":15.5},{"x":44,"y":53,"d":14.2},{"x":45,"y":53,"d":11.6},{"x":46,"y":53,"d":9.1},{"x":47,"y":53,"d":9.1},{"x":48,"y":53,"d":9.1},{"x":49,"y":53,"d":6.5},{"x":50,"y":53,"d":5.2},{"x":51,"y":53,"d":7.8},{"x":52,"y":53,"d":1.4},{"x":53,"y":53,"d":1.4},{"x":54,"y":53,"d":1.4},{"x":55,"y":53,"d":7.8},{"x":56,"y":53,"d":5.2},{"x":57,"y":53,"d":6.5},{"x":58,"y":53,"d":9.1},{"x":59,"y":53,"d":9.1},{"x":60,"y":53,"d":9.1},{"x":61,"y":53,"d":11.6},{"x":62,"y":53,"d":14.2},{"x":63,"y":53,"d":14.2},{"x":64,"y":53,"d":16.8},{"x":65,"y":53,"d":19.3},
{"x":40,"y":52,"d":19.3},{"x":41,"y":52,"d":16.8},{"x":42,"y":52,"d":15.5},{"x":43,"y":52,"d":14.2},{"x":44,"y":52,"d":11.6},{"x":45,"y":52,"d":9.1},{"x":46,"y":52,"d":9.1},{"x":47,"y":52,"d":9.1},{"x":48,"y":52,"d":6.5},{"x":49,"y":52,"d":5.2},{"x":50,"y":52,"d":7.8},{"x":51,"y":52,"d":1.4},{"x":52,"y":52,"d":1.4},{"x":53,"y":52,"d":1.4},{"x":54,"y":52,"d":7.8},{"x":55,"y":52,"d":5.2},{"x":56,"y":52,"d":6.5},{"x":57,"y":52,"d":9.1},{"x":58,"y":52,"d":9.1},{"x":59,"y":52,"d":9.1},{"x":60,"y":52,"d":11.6},{"x":61,"y":52,"d":14.2},{"x":62,"y":52,"d":14.2},{"x":63,"y":52,"d":16.8},{"x":64,"y":52,"d":19.3},
{"x":37,"y":51,"d":19.3},{"x":38,"y":51,"d":19.3},{"x":39,"y":51,"d":18},{"x":40,"y":51,"d":16.8},{"x":41,"y":51,"d":15.5},{"x":42,"y":51,"d":14.2},{"x":43,"y":51,"d":11.6},{"x":44,"y":51,"d":9.1},{"x":45,"y":51,"d":9.1},{"x":46,"y":51,"d":9.1},{"x":47,"y":51,"d":6.5},{"x":48,"y":51,"d":5.2},{"x":49,"y":51,"d":7.8},{"x":50,"y":51,"d":1.4},{"x":51,"y":51,"d":1.4},{"x":52,"y":51,"d":1.4},{"x":53,"y":51,"d":7.8},{"x":54,"y":51,"d":5.2},{"x":55,"y":51,"d":6.5},{"x":56,"y":51,"d":9.1},{"x":57,"y":51,"d":9.1},{"x":58,"y":51,"d":9.1},{"x":59,"y":51,"d":11.6},{"x":60,"y":51,"d":14.2},{"x":61,"y":51,"d":14.2},{"x":62,"y":51,"d":16.8},{"x":63,"y":51,"d":19.3},{"x":66,"y":51,"d":18},{"x":76,"y":51,"d":18},{"x":79,"y":51,"d":18},
{"x":38,"y":50,"d":19.3},{"x":39,"y":50,"d":16.8},{"x":40,"y":50,"d":15.5},{"x":41,"y":50,"d":14.2},{"x":42,"y":50,"d":11.6},{"x":43,"y":50,"d":9.1},{"x":44,"y":50,"d":9.1},{"x":45,"y":50,"d":9.1},{"x":46,"y":50,"d":6.5},{"x":47,"y":50,"d":5.2},{"x":48,"y":50,"d":7.8},{"x":49,"y":50,"d":1.4},{"x":50,"y":50,"d":1.4},{"x":51,"y":50,"d":1.4},{"x":52,"y":50,"d":7.8},{"x":53,"y":50,"d":5.2},{"x":54,"y":50,"d":6.5},{"x":55,"y":50,"d":9.1},{"x":56,"y":50,"d":9.1},{"x":57,"y":50,"d":9.1},{"x":58,"y":50,"d":11.6},{"x":59,"y":50,"d":14.2},{"x":60,"y":50,"d":14.2},{"x":61,"y":50,"d":16.8},{"x":62,"y":50,"d":19.3},{"x":82,"y":50,"d":18},
{"x":37,"y":49,"d":19.3},{"x":38,"y":49,"d":16.8},{"x":39,"y":49,"d":15.5},{"x":40,"y":49,"d":14.2},{"x":41,"y":49,"d":11.6},{"x":42,"y":49,"d":9.1},{"x":43,"y":49,"d":9.1},{"x":44,"y":49,"d":9.1},{"x":45,"y":49,"d":6.5},{"x":46,"y":49,"d":5.2},{"x":47,"y":49,"d":7.8},{"x":48,"y":49,"d":1.4},{"x":49,"y":49,"d":1.4},{"x":50,"y":49,"d":1.4},{"x":51,"y":49,"d":7.8},{"x":52,"y":49,"d":5.2},{"x":53,"y":49,"d":6.5},{"x":54,"y":49,"d":9.1},{"x":55,"y":49,"d":9.1},{"x":56,"y":49,"d":9.1},{"x":57,"y":49,"d":11.6},{"x":58,"y":49,"d":14.2},{"x":59,"y":49,"d":14.2},{"x":60,"y":49,"d":16.8},{"x":61,"y":49,"d":19.3},{"x":62,"y":49,"d":15.5},{"x":63,"y":49,"d":18},{"x":65,"y":49,"d":18},
{"x":36,"y":48,"d":19.3},{"x":37,"y":48,"d":16.8},{"x":38,"y":48,"d":15.5},{"x":39,"y":48,"d":14.2},{"x":40,"y":48,"d":11.6},{"x":41,"y":48,"d":9.1},{"x":42,"y":48,"d":9.1},{"x":43,"y":48,"d":9.1},{"x":44,"y":48,"d":6.5},{"x":45,"y":48,"d":5.2},{"x":46,"y":48,"d":7.8},{"x":47,"y":48,"d":1.4},{"x":48,"y":48,"d":1.4},{"x":49,"y":48,"d":1.4},{"x":50,"y":48,"d":7.8},{"x":51,"y":48,"d":5.2},{"x":52,"y":48,"d":6.5},{"x":53,"y":48,"d":9.1},{"x":54,"y":48,"d":9.1},{"x":55,"y":48,"d":9.1},{"x":56,"y":48,"d":11.6},{"x":57,"y":48,"d":14.2},{"x":58,"y":48,"d":14.2},{"x":59,"y":48,"d":16.8},{"x":60,"y":48,"d":19.3},{"x":62,"y":48,"d":16.8},{"x":63,"y":48,"d":18},{"x":64,"y":48,"d":18},{"x":66,"y":48,"d":18},
{"x":35,"y":47,"d":19.3},{"x":36,"y":47,"d":16.8},{"x":37,"y":47,"d":15.5},{"x":38,"y":47,"d":14.2},{"x":39,"y":47,"d":11.6},{"x":40,"y":47,"d":9.1},{"x":41,"y":47,"d":9.1},{"x":42,"y":47,"d":9.1},{"x":43,"y":47,"d":6.5},{"x":44,"y":47,"d":5.2},{"x":45,"y":47,"d":7.8},{"x":46,"y":47,"d":1.4},{"x":47,"y":47,"d":1.4},{"x":48,"y":47,"d":1.4},{"x":49,"y":47,"d":7.8},{"x":50,"y":47,"d":5.2},{"x":51,"y":47,"d":6.5},{"x":52,"y":47,"d":9.1},{"x":53,"y":47,"d":9.1},{"x":54,"y":47,"d":9.1},{"x":55,"y":47,"d":11.6},{"x":56,"y":47,"d":14.2},{"x":57,"y":47,"d":14.2},{"x":58,"y":47,"d":16.8},{"x":59,"y":47,"d":19.3},{"x":60,"y":47,"d":16.8},{"x":63,"y":47,"d":18},{"x":64,"y":47,"d":18},
{"x":18,"y":46,"d":15.5},{"x":20,"y":46,"d":18},{"x":21,"y":46,"d":16.8},{"x":22,"y":46,"d":18},{"x":27,"y":46,"d":18},{"x":28,"y":46,"d":18},{"x":34,"y":46,"d":19.3},{"x":35,"y":46,"d":16.8},{"x":36,"y":46,"d":15.5},{"x":37,"y":46,"d":14.2},{"x":38,"y":46,"d":11.6},{"x":39,"y":46,"d":9.1},{"x":40,"y":46,"d":9.1},{"x":41,"y":46,"d":9.1},{"x":42,"y":46,"d":6.5},{"x":43,"y":46,"d":5.2},{"x":44,"y":46,"d":7.8},{"x":45,"y":46,"d":1.4},{"x":46,"y":46,"d":1.4},{"x":47,"y":46,"d":1.4},{"x":48,"y":46,"d":7.8},{"x":49,"y":46,"d":5.2},{"x":50,"y":46,"d":6.5},{"x":51,"y":46,"d":9.1},{"x":52,"y":46,"d":9.1},{"x":53,"y":46,"d":9.1},{"x":54,"y":46,"d":11.6},{"x":55,"y":46,"d":14.2},{"x":56,"y":46,"d":15.5},{"x":57,"y":46,"d":16.8},{"x":58,"y":46,"d":19.3},{"x":59,"y":46,"d":16.8},{"x":60,"y":46,"d":19.3},{"x":61,"y":46,"d":15.5},{"x":62,"y":46,"d":16.8},{"x":65,"y":46,"d":18},
{"x":19,"y":45,"d":15.5},{"x":20,"y":45,"d":12.9},{"x":22,"y":45,"d":15.5},{"x":23,"y":45,"d":18},{"x":24,"y":45,"d":18},{"x":25,"y":45,"d":18},{"x":26,"y":45,"d":18},{"x":27,"y":45,"d":18},{"x":28,"y":45,"d":15.5},{"x":29,"y":45,"d":16.8},{"x":33,"y":45,"d":19.3},{"x":34,"y":45,"d":16.8},{"x":35,"y":45,"d":15.5},{"x":36,"y":45,"d":14.2},{"x":37,"y":45,"d":11.6},{"x":38,"y":45,"d":9.1},{"x":39,"y":45,"d":9.1},{"x":40,"y":45,"d":9.1},{"x":41,"y":45,"d":6.5},{"x":42,"y":45,"d":5.2},{"x":43,"y":45,"d":7.8},{"x":44,"y":45,"d":1.4},{"x":45,"y":45,"d":1.4},{"x":46,"y":45,"d":1.4},{"x":47,"y":45,"d":7.8},{"x":48,"y":45,"d":5.2},{"x":49,"y":45,"d":6.5},{"x":50,"y":45,"d":9.1},{"x":51,"y":45,"d":9.1},{"x":52,"y":45,"d":9.1},{"x":53,"y":45,"d":11.6},{"x":54,"y":45,"d":14.2},{"x":55,"y":45,"d":15.5},{"x":56,"y":45,"d":16.8},{"x":57,"y":45,"d":19.3},{"x":59,"y":45,"d":11.6},{"x":60,"y":45,"d":15.5},{"x":61,"y":45,"d":12.9},{"x":62,"y":45,"d":12.9},{"x":63,"y":45,"d":18},{"x":64,"y":45,"d":18},{"x":65,"y":45,"d":14.2},{"x":66,"y":45,"d":15.5},{"x":67,"y":45,"d":18},{"x":68,"y":45,"d":18},{"x":69,"y":45,"d":18},{"x":70,"y":45,"d":18},
{"x":18,"y":44,"d":15.5},{"x":20,"y":44,"d":15.5},{"x":21,"y":44,"d":11.6},{"x":22,"y":44,"d":18},{"x":27,"y":44,"d":18},{"x":28,"y":44,"d":19.3},{"x":29,"y":44,"d":19.3},{"x":32,"y":44,"d":19.3},{"x":33,"y":44,"d":16.8},{"x":34,"y":44,"d":15.5},{"x":35,"y":44,"d":14.2},{"x":36,"y":44,"d":11.6},{"x":37,"y":44,"d":9.1},{"x":38,"y":44,"d":9.1},{"x":39,"y":44,"d":9.1},{"x":40,"y":44,"d":6.5},{"x":41,"y":44,"d":5.2},{"x":42,"y":44,"d":7.8},{"x":43,"y":44,"d":1.4},{"x":44,"y":44,"d":1.4},{"x":45,"y":44,"d":1.4},{"x":46,"y":44,"d":7.8},{"x":47,"y":44,"d":5.2},{"x":48,"y":44,"d":6.5},{"x":49,"y":44,"d":9.1},{"x":50,"y":44,"d":9.1},{"x":51,"y":44,"d":9.1},{"x":52,"y":44,"d":11.6},{"x":53,"y":44,"d":14.2},{"x":54,"y":44,"d":15.5},{"x":55,"y":44,"d":16.8},{"x":56,"y":44,"d":19.3},{"x":63,"y":44,"d":12.9},{"x":64,"y":44,"d":12.9},{"x":67,"y":44,"d":15.5},{"x":70,"y":44,"d":15.5},{"x":71,"y":44,"d":18},{"x":72,"y":44,"d":18},
{"x":18,"y":43,"d":12.9},{"x":19,"y":43,"d":18},{"x":20,"y":43,"d":15.5},{"x":21,"y":43,"d":12.9},{"x":22,"y":43,"d":18},{"x":24,"y":43,"d":18},{"x":25,"y":43,"d":18},{"x":28,"y":43,"d":14.2},{"x":29,"y":43,"d":15.5},{"x":30,"y":43,"d":19.3},{"x":31,"y":43,"d":19.3},{"x":32,"y":43,"d":16.8},{"x":33,"y":43,"d":15.5},{"x":34,"y":43,"d":14.2},{"x":35,"y":43,"d":11.6},{"x":36,"y":43,"d":9.1},{"x":37,"y":43,"d":9.1},{"x":38,"y":43,"d":9.1},{"x":39,"y":43,"d":6.5},{"x":40,"y":43,"d":5.2},{"x":41,"y":43,"d":7.8},{"x":42,"y":43,"d":1.4},{"x":43,"y":43,"d":1.4},{"x":44,"y":43,"d":1.4},{"x":45,"y":43,"d":7.8},{"x":46,"y":43,"d":5.2},{"x":47,"y":43,"d":6.5},{"x":48,"y":43,"d":9.1},{"x":49,"y":43,"d":9.1},{"x":50,"y":43,"d":9.1},{"x":51,"y":43,"d":11.6},{"x":52,"y":43,"d":14.2},{"x":53,"y":43,"d":15.5},{"x":54,"y":43,"d":16.8},{"x":55,"y":43,"d":19.3},{"x":56,"y":43,"d":16.8},{"x":59,"y":43,"d":15.5},{"x":60,"y":43,"d":16.8},{"x":62,"y":43,"d":11.6},{"x":63,"y":43,"d":19.3},{"x":64,"y":43,"d":15.5},{"x":65,"y":43,"d":11.6},{"x":66,"y":43,"d":11.6},{"x":67,"y":43,"d":19.3},{"x":68,"y":43,"d":15.5},{"x":69,"y":43,"d":12.9},{"x":70,"y":43,"d":18},{"x":71,"y":43,"d":18},{"x":72,"y":43,"d":18},
{"x":23,"y":42,"d":15.5},{"x":24,"y":42,"d":14.2},{"x":27,"y":42,"d":18},{"x":28,"y":42,"d":12.9},{"x":29,"y":42,"d":15.5},{"x":30,"y":42,"d":19.3},{"x":31,"y":42,"d":16.8},{"x":32,"y":42,"d":15.5},{"x":33,"y":42,"d":14.2},{"x":34,"y":42,"d":11.6},{"x":35,"y":42,"d":9.1},{"x":36,"y":42,"d":9.1},{"x":37,"y":42,"d":9.1},{"x":38,"y":42,"d":6.5},{"x":39,"y":42,"d":5.2},{"x":40,"y":42,"d":7.8},{"x":41,"y":42,"d":1.4},{"x":42,"y":42,"d":1.4},{"x":43,"y":42,"d":1.4},{"x":44,"y":42,"d":7.8},{"x":45,"y":42,"d":5.2},{"x":46,"y":42,"d":6.5},{"x":47,"y":42,"d":9.1},{"x":48,"y":42,"d":9.1},{"x":49,"y":42,"d":9.1},{"x":50,"y":42,"d":11.6},{"x":51,"y":42,"d":14.2},{"x":52,"y":42,"d":15.5},{"x":53,"y":42,"d":16.8},{"x":54,"y":42,"d":19.3},{"x":55,"y":42,"d":15.5},{"x":56,"y":42,"d":19.3},{"x":57,"y":42,"d":14.2},{"x":59,"y":42,"d":16.8},{"x":60,"y":42,"d":19.3},{"x":61,"y":42,"d":15.5},{"x":62,"y":42,"d":12.9},{"x":63,"y":42,"d":18},{"x":64,"y":42,"d":18},{"x":65,"y":42,"d":11.6},{"x":66,"y":42,"d":11.6},{"x":67,"y":42,"d":18},{"x":68,"y":42,"d":18},{"x":69,"y":42,"d":12.9},{"x":70,"y":42,"d":12.9},{"x":71,"y":42,"d":18},
{"x":23,"y":41,"d":15.5},{"x":24,"y":41,"d":14.2},{"x":25,"y":41,"d":15.5},{"x":26,"y":41,"d":15.5},{"x":27,"y":41,"d":11.6},{"x":28,"y":41,"d":19.3},{"x":29,"y":41,"d":19.3},{"x":30,"y":41,"d":16.8},{"x":31,"y":41,"d":15.5},{"x":32,"y":41,"d":14.2},{"x":33,"y":41,"d":11.6},{"x":34,"y":41,"d":9.1},{"x":35,"y":41,"d":9.1},{"x":36,"y":41,"d":9.1},{"x":37,"y":41,"d":6.5},{"x":38,"y":41,"d":5.2},{"x":39,"y":41,"d":7.8},{"x":40,"y":41,"d":1.4},{"x":41,"y":41,"d":1.4},{"x":42,"y":41,"d":1.4},{"x":43,"y":41,"d":7.8},{"x":44,"y":41,"d":5.2},{"x":45,"y":41,"d":6.5},{"x":46,"y":41,"d":9.1},{"x":47,"y":41,"d":9.1},{"x":48,"y":41,"d":9.1},{"x":49,"y":41,"d":11.6},{"x":50,"y":41,"d":14.2},{"x":51,"y":41,"d":15.5},{"x":52,"y":41,"d":16.8},{"x":53,"y":41,"d":19.3},{"x":56,"y":41,"d":15.5},{"x":59,"y":41,"d":11.6},{"x":60,"y":41,"d":15.5},{"x":63,"y":41,"d":11.6},{"x":64,"y":41,"d":11.6},{"x":67,"y":41,"d":11.6},{"x":68,"y":41,"d":11.6},{"x":71,"y":41,"d":18},{"x":72,"y":41,"d":18},{"x":73,"y":41,"d":18},{"x":74,"y":41,"d":16.8},{"x":75,"y":41,"d":18},
{"x":10,"y":40,"d":18},{"x":11,"y":40,"d":18},{"x":13,"y":40,"d":14.2},{"x":23,"y":40,"d":18},{"x":24,"y":40,"d":18},{"x":25,"y":40,"d":18},{"x":26,"y":40,"d":18},{"x":27,"y":40,"d":12.9},{"x":28,"y":40,"d":19.3},{"x":29,"y":40,"d":15.5},{"x":30,"y":40,"d":19.3},{"x":31,"y":40,"d":12.9},{"x":32,"y":40,"d":11.6},{"x":33,"y":40,"d":9.1},{"x":34,"y":40,"d":9.1},{"x":35,"y":40,"d":9.1},{"x":36,"y":40,"d":6.5},{"x":37,"y":40,"d":5.2},{"x":38,"y":40,"d":7.8},{"x":39,"y":40,"d":1.4},{"x":40,"y":40,"d":1.4},{"x":41,"y":40,"d":1.4},{"x":42,"y":40,"d":7.8},{"x":43,"y":40,"d":5.2},{"x":44,"y":40,"d":6.5},{"x":45,"y":40,"d":9.1},{"x":46,"y":40,"d":9.1},{"x":47,"y":40,"d":9.1},{"x":48,"y":40,"d":11.6},{"x":49,"y":40,"d":14.2},{"x":50,"y":40,"d":15.5},{"x":51,"y":40,"d":16.8},{"x":52,"y":40,"d":19.3},{"x":53,"y":40,"d":19.3},{"x":54,"y":40,"d":12.9},{"x":55,"y":40,"d":15.5},{"x":56,"y":40,"d":19.3},{"x":59,"y":40,"d":15.5},{"x":60,"y":40,"d":14.2},{"x":62,"y":40,"d":11.6},{"x":63,"y":40,"d":11.6},{"x":64,"y":40,"d":11.6},{"x":67,"y":40,"d":11.6},{"x":74,"y":40,"d":18},{"x":75,"y":40,"d":18},
{"x":10,"y":39,"d":18},{"x":11,"y":39,"d":18},{"x":12,"y":39,"d":18},{"x":13,"y":39,"d":14.2},{"x":23,"y":39,"d":15.5},{"x":24,"y":39,"d":12.9},{"x":25,"y":39,"d":18},{"x":26,"y":39,"d":18},{"x":27,"y":39,"d":18},{"x":28,"y":39,"d":16.8},{"x":29,"y":39,"d":15.5},{"x":30,"y":39,"d":15.5},{"x":31,"y":39,"d":11.6},{"x":32,"y":39,"d":9.1},{"x":33,"y":39,"d":9.1},{"x":34,"y":39,"d":9.1},{"x":35,"y":39,"d":6.5},{"x":36,"y":39,"d":5.2},{"x":37,"y":39,"d":7.8},{"x":38,"y":39,"d":1.4},{"x":39,"y":39,"d":1.4},{"x":40,"y":39,"d":1.4},{"x":41,"y":39,"d":7.8},{"x":42,"y":39,"d":5.2},{"x":43,"y":39,"d":6.5},{"x":44,"y":39,"d":9.1},{"x":45,"y":39,"d":9.1},{"x":46,"y":39,"d":9.1},{"x":47,"y":39,"d":11.6},{"x":48,"y":39,"d":14.2},{"x":49,"y":39,"d":15.5},{"x":50,"y":39,"d":16.8},{"x":51,"y":39,"d":19.3},{"x":54,"y":39,"d":18},{"x":57,"y":39,"d":15.5},{"x":58,"y":39,"d":12.9},{"x":61,"y":39,"d":15.5},{"x":62,"y":39,"d":14.2},{"x":63,"y":39,"d":18},{"x":64,"y":39,"d":16.8},{"x":65,"y":39,"d":11.6},{"x":66,"y":39,"d":11.6},{"x":67,"y":39,"d":16.8},{"x":68,"y":39,"d":15.5},{"x":70,"y":39,"d":11.6},{"x":71,"y":39,"d":18},{"x":73,"y":39,"d":18},{"x":74,"y":39,"d":18},
{"x":9,"y":38,"d":18},{"x":10,"y":38,"d":12.9},{"x":11,"y":38,"d":12.9},{"x":12,"y":38,"d":11.6},{"x":23,"y":38,"d":10.4},{"x":25,"y":38,"d":18},{"x":26,"y":38,"d":18},{"x":27,"y":38,"d":11.6},{"x":28,"y":38,"d":9.1},{"x":29,"y":38,"d":14.2},{"x":30,"y":38,"d":12.9},{"x":31,"y":38,"d":9.1},{"x":32,"y":38,"d":9.1},{"x":33,"y":38,"d":9.1},{"x":34,"y":38,"d":6.5},{"x":35,"y":38,"d":5.2},{"x":36,"y":38,"d":7.8},{"x":37,"y":38,"d":1.4},{"x":38,"y":38,"d":1.4},{"x":39,"y":38,"d":1.4},{"x":40,"y":38,"d":7.8},{"x":41,"y":38,"d":5.2},{"x":42,"y":38,"d":6.5},{"x":43,"y":38,"d":9.1},{"x":44,"y":38,"d":9.1},{"x":45,"y":38,"d":9.1},{"x":46,"y":38,"d":11.6},{"x":47,"y":38,"d":14.2},{"x":48,"y":38,"d":15.5},{"x":49,"y":38,"d":16.8},{"x":50,"y":38,"d":19.3},{"x":51,"y":38,"d":19.3},{"x":54,"y":38,"d":18},{"x":55,"y":38,"d":18},{"x":59,"y":38,"d":18},{"x":61,"y":38,"d":15.5},{"x":63,"y":38,"d":18},{"x":64,"y":38,"d":18},{"x":67,"y":38,"d":15.5},{"x":68,"y":38,"d":14.2},{"x":71,"y":38,"d":14.2},{"x":72,"y":38,"d":18},{"x":73,"y":38,"d":18},
{"x":10,"y":37,"d":15.5},{"x":11,"y":37,"d":15.5},{"x":12,"y":37,"d":15.5},{"x":23,"y":37,"d":16.8},{"x":24,"y":37,"d":16.8},{"x":25,"y":37,"d":16.8},{"x":26,"y":37,"d":15.5},{"x":27,"y":37,"d":14.2},{"x":28,"y":37,"d":14.2},{"x":29,"y":37,"d":14.2},{"x":30,"y":37,"d":11.6},{"x":31,"y":37,"d":9.1},{"x":32,"y":37,"d":9.1},{"x":33,"y":37,"d":6.5},{"x":34,"y":37,"d":5.2},{"x":35,"y":37,"d":7.8},{"x":36,"y":37,"d":1.4},{"x":37,"y":37,"d":1.4},{"x":38,"y":37,"d":1.4},{"x":39,"y":37,"d":7.8},{"x":40,"y":37,"d":5.2},{"x":41,"y":37,"d":6.5},{"x":42,"y":37,"d":9.1},{"x":43,"y":37,"d":9.1},{"x":44,"y":37,"d":9.1},{"x":45,"y":37,"d":11.6},{"x":46,"y":37,"d":14.2},{"x":47,"y":37,"d":15.5},{"x":48,"y":37,"d":16.8},{"x":49,"y":37,"d":19.3},{"x":51,"y":37,"d":18},{"x":54,"y":37,"d":18},{"x":55,"y":37,"d":16.8},{"x":57,"y":37,"d":18},{"x":59,"y":37,"d":12.9},{"x":60,"y":37,"d":15.5},{"x":63,"y":37,"d":11.6},{"x":71,"y":37,"d":11.6},{"x":72,"y":37,"d":11.6},{"x":73,"y":37,"d":15.5},
{"x":10,"y":36,"d":18},{"x":11,"y":36,"d":18},{"x":12,"y":36,"d":18},{"x":13,"y":36,"d":15.5},{"x":23,"y":36,"d":18},{"x":24,"y":36,"d":19.3},{"x":25,"y":36,"d":16.8},{"x":26,"y":36,"d":14.2},{"x":27,"y":36,"d":12.9},{"x":28,"y":36,"d":11.6},{"x":29,"y":36,"d":14.2},{"x":30,"y":36,"d":11.6},{"x":31,"y":36,"d":9.1},{"x":32,"y":36,"d":6.5},{"x":33,"y":36,"d":5.2},{"x":34,"y":36,"d":7.8},{"x":35,"y":36,"d":1.4},{"x":36,"y":36,"d":1.4},{"x":37,"y":36,"d":1.4},{"x":38,"y":36,"d":7.8},{"x":39,"y":36,"d":5.2},{"x":40,"y":36,"d":6.5},{"x":41,"y":36,"d":9.1},{"x":42,"y":36,"d":9.1},{"x":43,"y":36,"d":9.1},{"x":44,"y":36,"d":11.6},{"x":45,"y":36,"d":14.2},{"x":46,"y":36,"d":15.5},{"x":47,"y":36,"d":16.8},{"x":48,"y":36,"d":19.3},{"x":58,"y":36,"d":16.8},{"x":61,"y":36,"d":16.8},{"x":62,"y":36,"d":12.9},{"x":63,"y":36,"d":18},{"x":64,"y":36,"d":14.2},{"x":67,"y":36,"d":11.6},{"x":69,"y":36,"d":7.8},
{"x":10,"y":35,"d":18},{"x":11,"y":35,"d":18},{"x":12,"y":35,"d":18},{"x":13,"y":35,"d":12.9},{"x":23,"y":35,"d":11.6},{"x":24,"y":35,"d":15.5},{"x":26,"y":35,"d":12.9},{"x":27,"y":35,"d":11.6},{"x":28,"y":35,"d":9.1},{"x":29,"y":35,"d":9.1},{"x":30,"y":35,"d":7.8},{"x":31,"y":35,"d":6.5},{"x":32,"y":35,"d":5.2},{"x":33,"y":35,"d":7.8},{"x":34,"y":35,"d":1.4},{"x":35,"y":35,"d":1.4},{"x":36,"y":35,"d":1.4},{"x":37,"y":35,"d":7.8},{"x":38,"y":35,"d":5.2},{"x":39,"y":35,"d":6.5},{"x":40,"y":35,"d":9.1},{"x":41,"y":35,"d":9.1},{"x":42,"y":35,"d":9.1},{"x":43,"y":35,"d":11.6},{"x":44,"y":35,"d":14.2},{"x":45,"y":35,"d":15.5},{"x":46,"y":35,"d":16.8},{"x":47,"y":35,"d":19.3},{"x":61,"y":35,"d":18},{"x":62,"y":35,"d":15.5},{"x":65,"y":35,"d":11.6},{"x":67,"y":35,"d":18},{"x":68,"y":35,"d":14.2},{"x":69,"y":35,"d":11.6},{"x":70,"y":35,"d":11.6},{"x":71,"y":35,"d":15.5},{"x":72,"y":35,"d":16.8},{"x":73,"y":35,"d":18},{"x":74,"y":35,"d":18},
{"x":11,"y":34,"d":16.8},{"x":12,"y":34,"d":16.8},{"x":23,"y":34,"d":18},{"x":24,"y":34,"d":15.5},{"x":25,"y":34,"d":14.2},{"x":26,"y":34,"d":12.9},{"x":27,"y":34,"d":9.1},{"x":28,"y":34,"d":9.1},{"x":29,"y":34,"d":10.4},{"x":30,"y":34,"d":9.1},{"x":31,"y":34,"d":5.2},{"x":32,"y":34,"d":7.8},{"x":33,"y":34,"d":1.4},{"x":34,"y":34,"d":1.4},{"x":35,"y":34,"d":1.4},{"x":36,"y":34,"d":7.8},{"x":37,"y":34,"d":5.2},{"x":38,"y":34,"d":6.5},{"x":39,"y":34,"d":9.1},{"x":40,"y":34,"d":9.1},{"x":41,"y":34,"d":9.1},{"x":42,"y":34,"d":11.6},{"x":43,"y":34,"d":14.2},{"x":44,"y":34,"d":15.5},{"x":45,"y":34,"d":16.8},{"x":46,"y":34,"d":19.3},{"x":58,"y":34,"d":16.8},{"x":59,"y":34,"d":18},{"x":61,"y":34,"d":18},{"x":67,"y":34,"d":12.9},{"x":68,"y":34,"d":11.6},{"x":69,"y":34,"d":7.8},{"x":71,"y":34,"d":11.6},{"x":72,"y":34,"d":15.5},{"x":73,"y":34,"d":18},{"x":74,"y":34,"d":18},
{"x":14,"y":33,"d":18},{"x":18,"y":33,"d":12.9},{"x":19,"y":33,"d":18},{"x":23,"y":33,"d":15.5},{"x":24,"y":33,"d":19.3},{"x":25,"y":33,"d":18},{"x":26,"y":33,"d":18},{"x":27,"y":33,"d":12.9},{"x":28,"y":33,"d":11.6},{"x":29,"y":33,"d":11.6},{"x":30,"y":33,"d":9.1},{"x":31,"y":33,"d":5.2},{"x":32,"y":33,"d":1.4},{"x":33,"y":33,"d":1.4},{"x":34,"y":33,"d":1.4},{"x":35,"y":33,"d":7.8},{"x":36,"y":33,"d":5.2},{"x":37,"y":33,"d":6.5},{"x":38,"y":33,"d":9.1},{"x":39,"y":33,"d":9.1},{"x":40,"y":33,"d":9.1},{"x":41,"y":33,"d":11.6},{"x":42,"y":33,"d":14.2},{"x":43,"y":33,"d":15.5},{"x":44,"y":33,"d":16.8},{"x":45,"y":33,"d":19.3},{"x":58,"y":33,"d":18},{"x":59,"y":33,"d":18},{"x":61,"y":33,"d":16.8},{"x":64,"y":33,"d":18},{"x":67,"y":33,"d":11.6},{"x":74,"y":33,"d":15.5},{"x":75,"y":33,"d":18},
{"x":13,"y":32,"d":18},{"x":14,"y":32,"d":18},{"x":17,"y":32,"d":12.9},{"x":19,"y":32,"d":16.8},{"x":23,"y":32,"d":15.5},{"x":24,"y":32,"d":15.5},{"x":25,"y":32,"d":12.9},{"x":26,"y":32,"d":12.9},{"x":27,"y":32,"d":12.9},{"x":28,"y":32,"d":11.6},{"x":29,"y":32,"d":9.1},{"x":30,"y":32,"d":7.8},{"x":31,"y":32,"d":1.4},{"x":32,"y":32,"d":1.4},{"x":33,"y":32,"d":1.4},{"x":34,"y":32,"d":7.8},{"x":35,"y":32,"d":5.2},{"x":36,"y":32,"d":6.5},{"x":37,"y":32,"d":9.1},{"x":38,"y":32,"d":9.1},{"x":39,"y":32,"d":9.1},{"x":40,"y":32,"d":11.6},{"x":41,"y":32,"d":14.2},{"x":42,"y":32,"d":15.5},{"x":43,"y":32,"d":16.8},{"x":44,"y":32,"d":19.3},{"x":62,"y":32,"d":16.8},{"x":65,"y":32,"d":15.5},{"x":66,"y":32,"d":18},{"x":67,"y":32,"d":18},{"x":68,"y":32,"d":12.9},{"x":69,"y":32,"d":11.6},{"x":71,"y":32,"d":11.6},{"x":72,"y":32,"d":15.5},{"x":73,"y":32,"d":18},{"x":74,"y":32,"d":18},
{"x":14,"y":31,"d":15.5},{"x":15,"y":31,"d":15.5},{"x":21,"y":31,"d":18},{"x":22,"y":31,"d":18},{"x":23,"y":31,"d":18},{"x":24,"y":31,"d":12.9},{"x":25,"y":31,"d":9.1},{"x":26,"y":31,"d":9.1},{"x":28,"y":31,"d":9.1},{"x":29,"y":31,"d":7.8},{"x":30,"y":31,"d":1.4},{"x":31,"y":31,"d":1.4},{"x":32,"y":31,"d":1.4},{"x":33,"y":31,"d":5.2},{"x":34,"y":31,"d":3.9},{"x":35,"y":31,"d":6.5},{"x":36,"y":31,"d":9.1},{"x":37,"y":31,"d":9.1},{"x":38,"y":31,"d":9.1},{"x":39,"y":31,"d":11.6},{"x":40,"y":31,"d":14.2},{"x":41,"y":31,"d":15.5},{"x":42,"y":31,"d":16.8},{"x":43,"y":31,"d":19.3},{"x":62,"y":31,"d":16.8},{"x":65,"y":31,"d":16.8},{"x":66,"y":31,"d":18},{"x":67,"y":31,"d":18},{"x":68,"y":31,"d":15.5},{"x":71,"y":31,"d":15.5},{"x":72,"y":31,"d":18},
{"x":13,"y":30,"d":18},{"x":14,"y":30,"d":18},{"x":15,"y":30,"d":18},{"x":18,"y":30,"d":18},{"x":19,"y":30,"d":18},{"x":21,"y":30,"d":18},{"x":22,"y":30,"d":18},{"x":23,"y":30,"d":15.5},{"x":24,"y":30,"d":12.9},{"x":25,"y":30,"d":9.1},{"x":26,"y":30,"d":11.6},{"x":28,"y":30,"d":7.8},{"x":29,"y":30,"d":1.4},{"x":30,"y":30,"d":1.4},{"x":31,"y":30,"d":1.4},{"x":32,"y":30,"d":7.8},{"x":33,"y":30,"d":9.1},{"x":34,"y":30,"d":9.1},{"x":35,"y":30,"d":7.8},{"x":36,"y":30,"d":12.9},{"x":37,"y":30,"d":12.9},{"x":38,"y":30,"d":11.6},{"x":39,"y":30,"d":15.5},{"x":40,"y":30,"d":16.8},{"x":41,"y":30,"d":15.5},{"x":42,"y":30,"d":18},{"x":43,"y":30,"d":18},{"x":62,"y":30,"d":16.8},{"x":65,"y":30,"d":18},{"x":66,"y":30,"d":18},{"x":67,"y":30,"d":18},{"x":68,"y":30,"d":18},{"x":69,"y":30,"d":15.5},{"x":70,"y":30,"d":12.9},{"x":71,"y":30,"d":18},
{"x":14,"y":29,"d":18},{"x":19,"y":29,"d":18},{"x":22,"y":29,"d":15.5},{"x":23,"y":29,"d":15.5},{"x":24,"y":29,"d":9.1},{"x":25,"y":29,"d":11.6},{"x":26,"y":29,"d":10.4},{"x":27,"y":29,"d":7.8},{"x":28,"y":29,"d":1.4},{"x":29,"y":29,"d":1.4},{"x":30,"y":29,"d":1.4},{"x":31,"y":29,"d":7.8},{"x":32,"y":29,"d":9.1},{"x":33,"y":29,"d":11.6},{"x":34,"y":29,"d":10.4},{"x":35,"y":29,"d":10.4},{"x":36,"y":29,"d":14.2},{"x":37,"y":29,"d":14.2},{"x":38,"y":29,"d":14.2},{"x":39,"y":29,"d":15.5},{"x":40,"y":29,"d":16.8},{"x":41,"y":29,"d":19.3},{"x":42,"y":29,"d":15.5},{"x":43,"y":29,"d":16.8},{"x":44,"y":29,"d":18},{"x":45,"y":29,"d":18},{"x":62,"y":29,"d":16.8},{"x":65,"y":29,"d":16.8},{"x":66,"y":29,"d":15.5},{"x":68,"y":29,"d":18},{"x":69,"y":29,"d":18},
{"x":13,"y":28,"d":18},{"x":14,"y":28,"d":18},{"x":15,"y":28,"d":18},{"x":17,"y":28,"d":15.5},{"x":18,"y":28,"d":19.3},{"x":19,"y":28,"d":18},{"x":20,"y":28,"d":15.5},{"x":23,"y":28,"d":14.2},{"x":24,"y":28,"d":12.9},{"x":25,"y":28,"d":9.1},{"x":26,"y":28,"d":7.8},{"x":27,"y":28,"d":1.4},{"x":28,"y":28,"d":1.4},{"x":29,"y":28,"d":1.4},{"x":30,"y":28,"d":7.8},{"x":31,"y":28,"d":9.1},{"x":32,"y":28,"d":10.4},{"x":33,"y":28,"d":10.4},{"x":34,"y":28,"d":9.1},{"x":35,"y":28,"d":9.1},{"x":36,"y":28,"d":11.6},{"x":37,"y":28,"d":14.2},{"x":38,"y":28,"d":8.9},{"x":39,"y":28,"d":15.5},{"x":40,"y":28,"d":18},{"x":41,"y":28,"d":18},{"x":42,"y":28,"d":12.9},{"x":43,"y":28,"d":12.9},{"x":44,"y":28,"d":18},{"x":45,"y":28,"d":15.5},{"x":46,"y":28,"d":18},{"x":62,"y":28,"d":16.8},{"x":63,"y":28,"d":18},
{"x":13,"y":27,"d":18},{"x":14,"y":27,"d":18},{"x":15,"y":27,"d":18},{"x":16,"y":27,"d":15.5},{"x":17,"y":27,"d":14.2},{"x":19,"y":27,"d":16.8},{"x":21,"y":27,"d":9.1},{"x":22,"y":27,"d":9.1},{"x":23,"y":27,"d":12.9},{"x":24,"y":27,"d":9.1},{"x":25,"y":27,"d":7.8},{"x":26,"y":27,"d":1.4},{"x":27,"y":27,"d":1.4},{"x":28,"y":27,"d":1.4},{"x":29,"y":27,"d":7.8},{"x":32,"y":27,"d":12.9},{"x":33,"y":27,"d":14.2},{"x":34,"y":27,"d":9.1},{"x":35,"y":27,"d":11.6},{"x":36,"y":27,"d":14.2},{"x":37,"y":27,"d":14.2},{"x":38,"y":27,"d":12.9},{"x":39,"y":27,"d":18},{"x":40,"y":27,"d":14.2},{"x":41,"y":27,"d":10.4},{"x":42,"y":27,"d":18},{"x":44,"y":27,"d":18},{"x":45,"y":27,"d":18},{"x":46,"y":27,"d":18},{"x":58,"y":27,"d":15.5},{"x":62,"y":27,"d":15.5},
{"x":14,"y":26,"d":18},{"x":15,"y":26,"d":18},{"x":16,"y":26,"d":18},{"x":17,"y":26,"d":16.8},{"x":18,"y":26,"d":15.5},{"x":19,"y":26,"d":14.2},{"x":20,"y":26,"d":14.2},{"x":21,"y":26,"d":9.1},{"x":22,"y":26,"d":10.4},{"x":23,"y":26,"d":11.6},{"x":24,"y":26,"d":7.8},{"x":25,"y":26,"d":1.4},{"x":26,"y":26,"d":1.4},{"x":27,"y":26,"d":1.4},{"x":28,"y":26,"d":7.8},{"x":29,"y":26,"d":9.1},{"x":30,"y":26,"d":10.4},{"x":31,"y":26,"d":9.1},{"x":32,"y":26,"d":12.9},{"x":33,"y":26,"d":15.5},{"x":34,"y":26,"d":11.6},{"x":35,"y":26,"d":12.9},{"x":36,"y":26,"d":12.9},{"x":37,"y":26,"d":15.5},{"x":38,"y":26,"d":18},{"x":39,"y":26,"d":18},{"x":40,"y":26,"d":18},{"x":41,"y":26,"d":15.5},{"x":45,"y":26,"d":18},{"x":58,"y":26,"d":15.5},{"x":62,"y":26,"d":15.5},
{"x":13,"y":25,"d":19.3},{"x":14,"y":25,"d":16.8},{"x":15,"y":25,"d":15.5},{"x":16,"y":25,"d":15.5},{"x":17,"y":25,"d":12.9},{"x":18,"y":25,"d":12.9},{"x":19,"y":25,"d":11.6},{"x":20,"y":25,"d":11.6},{"x":21,"y":25,"d":6.5},{"x":22,"y":25,"d":9.1},{"x":23,"y":25,"d":7.8},{"x":24,"y":25,"d":1.4},{"x":25,"y":25,"d":1.4},{"x":26,"y":25,"d":1.4},{"x":27,"y":25,"d":7.8},{"x":28,"y":25,"d":9.1},{"x":29,"y":25,"d":10.4},{"x":30,"y":25,"d":9.1},{"x":31,"y":25,"d":9.1},{"x":32,"y":25,"d":12.9},{"x":33,"y":25,"d":18},{"x":34,"y":25,"d":15.5},{"x":36,"y":25,"d":15.5},{"x":37,"y":25,"d":15.5},{"x":38,"y":25,"d":18},{"x":39,"y":25,"d":18},{"x":40,"y":25,"d":18},{"x":41,"y":25,"d":15.5},{"x":43,"y":25,"d":18},{"x":45,"y":25,"d":18},{"x":58,"y":25,"d":15.5},{"x":62,"y":25,"d":15.5},{"x":63,"y":25,"d":15.5},
{"x":12,"y":24,"d":19.3},{"x":13,"y":24,"d":16.8},{"x":14,"y":24,"d":15.5},{"x":15,"y":24,"d":14.2},{"x":16,"y":24,"d":11.6},{"x":17,"y":24,"d":9.1},{"x":18,"y":24,"d":9.1},{"x":19,"y":24,"d":9.1},{"x":20,"y":24,"d":6.5},{"x":21,"y":24,"d":5.2},{"x":22,"y":24,"d":7.8},{"x":23,"y":24,"d":1.4},{"x":24,"y":24,"d":1.4},{"x":25,"y":24,"d":1.4},{"x":26,"y":24,"d":7.8},{"x":27,"y":24,"d":9.1},{"x":28,"y":24,"d":11.6},{"x":29,"y":24,"d":9.1},{"x":30,"y":24,"d":12.9},{"x":31,"y":24,"d":12.9},{"x":32,"y":24,"d":16.8},{"x":33,"y":24,"d":19.3},{"x":34,"y":24,"d":15.5},{"x":35,"y":24,"d":15.5},{"x":36,"y":24,"d":19.3},{"x":37,"y":24,"d":16.8},{"x":39,"y":24,"d":12.9},{"x":40,"y":24,"d":18},{"x":41,"y":24,"d":15.5},{"x":42,"y":24,"d":15.5},{"x":43,"y":24,"d":18},{"x":45,"y":24,"d":18},{"x":62,"y":24,"d":15.5},{"x":63,"y":24,"d":15.5},{"x":66,"y":24,"d":16.8},
{"x":11,"y":23,"d":19.3},{"x":12,"y":23,"d":16.8},{"x":13,"y":23,"d":15.5},{"x":14,"y":23,"d":14.2},{"x":15,"y":23,"d":11.6},{"x":16,"y":23,"d":9.1},{"x":17,"y":23,"d":9.1},{"x":18,"y":23,"d":9.1},{"x":19,"y":23,"d":6.5},{"x":20,"y":23,"d":5.2},{"x":21,"y":23,"d":7.8},{"x":22,"y":23,"d":1.4},{"x":23,"y":23,"d":1.4},{"x":24,"y":23,"d":1.4},{"x":25,"y":23,"d":7.8},{"x":26,"y":23,"d":9.1},{"x":27,"y":23,"d":11.6},{"x":28,"y":23,"d":14.2},{"x":29,"y":23,"d":14.2},{"x":30,"y":23,"d":15.5},{"x":31,"y":23,"d":19.3},{"x":32,"y":23,"d":16.8},{"x":33,"y":23,"d":16.8},{"x":34,"y":23,"d":19.3},{"x":35,"y":23,"d":10.4},{"x":36,"y":23,"d":19.3},{"x":37,"y":23,"d":16.8},{"x":38,"y":23,"d":10.4},{"x":39,"y":23,"d":15.5},{"x":40,"y":23,"d":18},{"x":41,"y":23,"d":15.5},{"x":42,"y":23,"d":15.5},{"x":45,"y":23,"d":18},{"x":66,"y":23,"d":16.8},{"x":70,"y":23,"d":15.5},
{"x":10,"y":22,"d":19.3},{"x":11,"y":22,"d":16.8},{"x":12,"y":22,"d":15.5},{"x":13,"y":22,"d":14.2},{"x":14,"y":22,"d":11.6},{"x":15,"y":22,"d":9.1},{"x":16,"y":22,"d":9.1},{"x":17,"y":22,"d":9.1},{"x":18,"y":22,"d":6.5},{"x":19,"y":22,"d":5.2},{"x":20,"y":22,"d":7.8},{"x":21,"y":22,"d":1.4},{"x":22,"y":22,"d":1.4},{"x":23,"y":22,"d":1.4},{"x":24,"y":22,"d":7.8},{"x":25,"y":22,"d":9.1},{"x":26,"y":22,"d":11.6},{"x":27,"y":22,"d":9.1},{"x":29,"y":22,"d":14.2},{"x":30,"y":22,"d":18},{"x":31,"y":22,"d":18},{"x":43,"y":22,"d":18},{"x":44,"y":22,"d":18},{"x":45,"y":22,"d":16.8},{"x":46,"y":22,"d":18},{"x":66,"y":22,"d":16.8},{"x":68,"y":22,"d":18},{"x":69,"y":22,"d":18},
{"x":9,"y":21,"d":19.3},{"x":10,"y":21,"d":16.8},{"x":11,"y":21,"d":15.5},{"x":12,"y":21,"d":14.2},{"x":13,"y":21,"d":11.6},{"x":14,"y":21,"d":9.1},{"x":15,"y":21,"d":9.1},{"x":16,"y":21,"d":9.1},{"x":17,"y":21,"d":6.5},{"x":18,"y":21,"d":5.2},{"x":19,"y":21,"d":7.8},{"x":20,"y":21,"d":1.4},{"x":21,"y":21,"d":1.4},{"x":22,"y":21,"d":1.4},{"x":23,"y":21,"d":7.8},{"x":24,"y":21,"d":5.2},{"x":25,"y":21,"d":6.5},{"x":26,"y":21,"d":9.1},{"x":27,"y":21,"d":9.1},{"x":30,"y":21,"d":18},{"x":31,"y":21,"d":18},{"x":43,"y":21,"d":11.6},{"x":44,"y":21,"d":11.6},{"x":46,"y":21,"d":15.5},{"x":55,"y":21,"d":18},{"x":59,"y":21,"d":16.8},{"x":65,"y":21,"d":18},{"x":66,"y":21,"d":11.6},
{"x":5,"y":20,"d":18},{"x":8,"y":20,"d":19.3},{"x":9,"y":20,"d":16.8},{"x":10,"y":20,"d":15.5},{"x":11,"y":20,"d":14.2},{"x":12,"y":20,"d":11.6},{"x":13,"y":20,"d":9.1},{"x":14,"y":20,"d":9.1},{"x":15,"y":20,"d":9.1},{"x":16,"y":20,"d":6.5},{"x":17,"y":20,"d":5.2},{"x":18,"y":20,"d":7.8},{"x":19,"y":20,"d":1.4},{"x":20,"y":20,"d":1.4},{"x":21,"y":20,"d":1.4},{"x":22,"y":20,"d":7.8},{"x":23,"y":20,"d":5.2},{"x":24,"y":20,"d":6.5},{"x":25,"y":20,"d":9.1},{"x":26,"y":20,"d":9.1},{"x":28,"y":20,"d":15.5},{"x":43,"y":20,"d":15.5},{"x":44,"y":20,"d":15.5},{"x":45,"y":20,"d":12.9},{"x":46,"y":20,"d":18},{"x":59,"y":20,"d":16.8},
{"x":5,"y":19,"d":18},{"x":7,"y":19,"d":19.3},{"x":8,"y":19,"d":16.8},{"x":9,"y":19,"d":15.5},{"x":10,"y":19,"d":14.2},{"x":11,"y":19,"d":11.6},{"x":12,"y":19,"d":9.1},{"x":13,"y":19,"d":9.1},{"x":14,"y":19,"d":9.1},{"x":15,"y":19,"d":6.5},{"x":16,"y":19,"d":5.2},{"x":17,"y":19,"d":7.8},{"x":18,"y":19,"d":1.4},{"x":19,"y":19,"d":1.4},{"x":20,"y":19,"d":1.4},{"x":21,"y":19,"d":7.8},{"x":22,"y":19,"d":5.2},{"x":23,"y":19,"d":6.5},{"x":24,"y":19,"d":9.1},{"x":25,"y":19,"d":9.1},{"x":26,"y":19,"d":15.5},{"x":27,"y":19,"d":15.5},{"x":28,"y":19,"d":18},{"x":29,"y":19,"d":18},{"x":30,"y":19,"d":18},{"x":32,"y":19,"d":15.5},{"x":33,"y":19,"d":15.5},{"x":43,"y":19,"d":18},{"x":45,"y":19,"d":15.5},
{"x":5,"y":18,"d":18},{"x":6,"y":18,"d":19.3},{"x":7,"y":18,"d":16.8},{"x":8,"y":18,"d":15.5},{"x":9,"y":18,"d":14.2},{"x":10,"y":18,"d":11.6},{"x":11,"y":18,"d":9.1},{"x":12,"y":18,"d":9.1},{"x":13,"y":18,"d":9.1},{"x":14,"y":18,"d":6.5},{"x":15,"y":18,"d":5.2},{"x":16,"y":18,"d":7.8},{"x":17,"y":18,"d":1.4},{"x":18,"y":18,"d":1.4},{"x":19,"y":18,"d":1.4},{"x":20,"y":18,"d":7.8},{"x":21,"y":18,"d":5.2},{"x":22,"y":18,"d":6.5},{"x":23,"y":18,"d":9.1},{"x":24,"y":18,"d":9.1},{"x":25,"y":18,"d":11.6},{"x":26,"y":18,"d":15.5},{"x":28,"y":18,"d":18},{"x":30,"y":18,"d":18},{"x":33,"y":18,"d":12.9},{"x":43,"y":18,"d":11.6},{"x":44,"y":18,"d":16.8},{"x":46,"y":18,"d":16.8},{"x":59,"y":18,"d":16.8},{"x":60,"y":18,"d":16.8},{"x":72,"y":18,"d":18},{"x":74,"y":18,"d":18},
{"x":5,"y":17,"d":19.3},{"x":6,"y":17,"d":16.8},{"x":7,"y":17,"d":15.5},{"x":8,"y":17,"d":14.2},{"x":9,"y":17,"d":11.6},{"x":10,"y":17,"d":9.1},{"x":11,"y":17,"d":9.1},{"x":12,"y":17,"d":9.1},{"x":13,"y":17,"d":6.5},{"x":14,"y":17,"d":5.2},{"x":15,"y":17,"d":7.8},{"x":16,"y":17,"d":1.4},{"x":17,"y":17,"d":1.4},{"x":18,"y":17,"d":1.4},{"x":19,"y":17,"d":7.8},{"x":20,"y":17,"d":5.2},{"x":21,"y":17,"d":6.5},{"x":22,"y":17,"d":9.1},{"x":23,"y":17,"d":9.1},{"x":24,"y":17,"d":9.1},{"x":25,"y":17,"d":12.9},{"x":26,"y":17,"d":19.3},{"x":27,"y":17,"d":15.5},{"x":28,"y":17,"d":15.5},{"x":32,"y":17,"d":12.9},{"x":75,"y":17,"d":18},
{"x":4,"y":16,"d":19.3},{"x":5,"y":16,"d":16.8},{"x":6,"y":16,"d":15.5},{"x":7,"y":16,"d":14.2},{"x":8,"y":16,"d":11.6},{"x":9,"y":16,"d":9.1},{"x":10,"y":16,"d":9.1},{"x":11,"y":16,"d":9.1},{"x":12,"y":16,"d":6.5},{"x":13,"y":16,"d":5.2},{"x":14,"y":16,"d":7.8},{"x":15,"y":16,"d":1.4},{"x":16,"y":16,"d":1.4},{"x":17,"y":16,"d":1.4},{"x":18,"y":16,"d":7.8},{"x":19,"y":16,"d":5.2},{"x":20,"y":16,"d":6.5},{"x":21,"y":16,"d":9.1},{"x":22,"y":16,"d":9.1},{"x":23,"y":16,"d":9.1},{"x":24,"y":16,"d":11.6},{"x":25,"y":16,"d":14.2},{"x":26,"y":16,"d":19.3},{"x":27,"y":16,"d":15.5},{"x":62,"y":16,"d":12.9},
{"x":2,"y":15,"d":19.3},{"x":3,"y":15,"d":19.3},{"x":4,"y":15,"d":16.8},{"x":5,"y":15,"d":15.5},{"x":6,"y":15,"d":14.2},{"x":7,"y":15,"d":12.9},{"x":8,"y":15,"d":9.1},{"x":9,"y":15,"d":9.1},{"x":10,"y":15,"d":9.1},{"x":11,"y":15,"d":6.5},{"x":12,"y":15,"d":5.2},{"x":13,"y":15,"d":7.8},{"x":14,"y":15,"d":1.4},{"x":15,"y":15,"d":1.4},{"x":16,"y":15,"d":1.4},{"x":17,"y":15,"d":7.8},{"x":18,"y":15,"d":5.2},{"x":19,"y":15,"d":6.5},{"x":20,"y":15,"d":9.1},{"x":21,"y":15,"d":9.1},{"x":22,"y":15,"d":9.1},{"x":23,"y":15,"d":11.6},{"x":24,"y":15,"d":14.2},{"x":25,"y":15,"d":15.5},{"x":26,"y":15,"d":19.3},{"x":27,"y":15,"d":19.3},{"x":28,"y":15,"d":18},{"x":30,"y":15,"d":18},{"x":31,"y":15,"d":15.5},{"x":32,"y":15,"d":18},{"x":33,"y":15,"d":18},{"x":74,"y":15,"d":18},
{"x":2,"y":14,"d":19.3},{"x":3,"y":14,"d":16.8},{"x":4,"y":14,"d":15.5},{"x":5,"y":14,"d":14.2},{"x":6,"y":14,"d":11.6},{"x":7,"y":14,"d":9.1},{"x":8,"y":14,"d":9.1},{"x":9,"y":14,"d":9.1},{"x":10,"y":14,"d":6.5},{"x":11,"y":14,"d":5.2},{"x":12,"y":14,"d":7.8},{"x":13,"y":14,"d":1.4},{"x":14,"y":14,"d":1.4},{"x":15,"y":14,"d":1.4},{"x":16,"y":14,"d":7.8},{"x":17,"y":14,"d":5.2},{"x":18,"y":14,"d":6.5},{"x":19,"y":14,"d":9.1},{"x":20,"y":14,"d":9.1},{"x":21,"y":14,"d":9.1},{"x":22,"y":14,"d":11.6},{"x":23,"y":14,"d":14.2},{"x":24,"y":14,"d":15.5},{"x":25,"y":14,"d":16.8},{"x":26,"y":14,"d":19.3},{"x":27,"y":14,"d":19.3},{"x":28,"y":14,"d":18},{"x":29,"y":14,"d":18},{"x":30,"y":14,"d":18},{"x":31,"y":14,"d":15.5},{"x":32,"y":14,"d":18},{"x":61,"y":14,"d":11.6},{"x":62,"y":14,"d":11.6},{"x":72,"y":14,"d":15.5},
{"x":1,"y":13,"d":19.3},{"x":2,"y":13,"d":16.8},{"x":3,"y":13,"d":15.5},{"x":4,"y":13,"d":14.2},{"x":5,"y":13,"d":11.6},{"x":6,"y":13,"d":9.1},{"x":7,"y":13,"d":9.1},{"x":8,"y":13,"d":9.1},{"x":9,"y":13,"d":6.5},{"x":10,"y":13,"d":5.2},{"x":11,"y":13,"d":7.8},{"x":12,"y":13,"d":1.4},{"x":13,"y":13,"d":1.4},{"x":14,"y":13,"d":1.4},{"x":15,"y":13,"d":7.8},{"x":16,"y":13,"d":5.2},{"x":17,"y":13,"d":6.5},{"x":18,"y":13,"d":9.1},{"x":19,"y":13,"d":9.1},{"x":20,"y":13,"d":9.1},{"x":21,"y":13,"d":11.6},{"x":22,"y":13,"d":14.2},{"x":23,"y":13,"d":15.5},{"x":24,"y":13,"d":16.8},{"x":25,"y":13,"d":19.3},{"x":27,"y":13,"d":19.3},{"x":28,"y":13,"d":19.3},{"x":30,"y":13,"d":18},{"x":35,"y":13,"d":14.2},{"x":36,"y":13,"d":15.5},{"x":39,"y":13,"d":14.2},{"x":40,"y":13,"d":12.9},
{"x":1,"y":12,"d":16.8},{"x":2,"y":12,"d":15.5},{"x":3,"y":12,"d":15.5},{"x":4,"y":12,"d":11.6},{"x":5,"y":12,"d":9.1},{"x":6,"y":12,"d":9.1},{"x":7,"y":12,"d":9.1},{"x":8,"y":12,"d":6.5},{"x":9,"y":12,"d":5.2},{"x":10,"y":12,"d":7.8},{"x":11,"y":12,"d":1.4},{"x":12,"y":12,"d":1.4},{"x":13,"y":12,"d":1.4},{"x":14,"y":12,"d":7.8},{"x":15,"y":12,"d":5.2},{"x":16,"y":12,"d":6.5},{"x":17,"y":12,"d":9.1},{"x":18,"y":12,"d":9.1},{"x":19,"y":12,"d":9.1},{"x":20,"y":12,"d":11.6},{"x":21,"y":12,"d":14.2},{"x":22,"y":12,"d":15.5},{"x":23,"y":12,"d":16.8},{"x":24,"y":12,"d":19.3},{"x":34,"y":12,"d":16.8},{"x":35,"y":12,"d":18},{"x":36,"y":12,"d":18},{"x":37,"y":12,"d":16.8},{"x":38,"y":12,"d":12.9},{"x":39,"y":12,"d":18},{"x":61,"y":12,"d":18},
{"x":1,"y":11,"d":16.8},{"x":3,"y":11,"d":15.5},{"x":4,"y":11,"d":9.1},{"x":5,"y":11,"d":9.1},{"x":6,"y":11,"d":9.1},{"x":7,"y":11,"d":6.5},{"x":8,"y":11,"d":5.2},{"x":9,"y":11,"d":7.8},{"x":10,"y":11,"d":1.4},{"x":11,"y":11,"d":1.4},{"x":12,"y":11,"d":1.4},{"x":13,"y":11,"d":7.8},{"x":14,"y":11,"d":5.2},{"x":15,"y":11,"d":6.5},{"x":16,"y":11,"d":9.1},{"x":17,"y":11,"d":9.1},{"x":18,"y":11,"d":9.1},{"x":19,"y":11,"d":11.6},{"x":20,"y":11,"d":14.2},{"x":21,"y":11,"d":15.5},{"x":22,"y":11,"d":16.8},{"x":23,"y":11,"d":19.3},{"x":34,"y":11,"d":16.8},{"x":35,"y":11,"d":18},{"x":36,"y":11,"d":18},{"x":37,"y":11,"d":16.8},{"x":38,"y":11,"d":14.2},{"x":39,"y":11,"d":18},{"x":40,"y":11,"d":18},
{"x":2,"y":10,"d":14.2},{"x":3,"y":10,"d":9.1},{"x":4,"y":10,"d":9.1},{"x":5,"y":10,"d":9.1},{"x":6,"y":10,"d":6.5},{"x":7,"y":10,"d":5.2},{"x":8,"y":10,"d":7.8},{"x":9,"y":10,"d":1.4},{"x":10,"y":10,"d":1.4},{"x":11,"y":10,"d":1.4},{"x":12,"y":10,"d":7.8},{"x":13,"y":10,"d":5.2},{"x":14,"y":10,"d":6.5},{"x":15,"y":10,"d":9.1},{"x":16,"y":10,"d":9.1},{"x":17,"y":10,"d":9.1},{"x":18,"y":10,"d":11.6},{"x":19,"y":10,"d":14.2},{"x":20,"y":10,"d":15.5},{"x":21,"y":10,"d":16.8},{"x":22,"y":10,"d":19.3},{"x":35,"y":10,"d":18},{"x":36,"y":10,"d":18},{"x":37,"y":10,"d":16.8},{"x":38,"y":10,"d":14.2},{"x":39,"y":10,"d":18},{"x":40,"y":10,"d":18},
{"x":1,"y":9,"d":12.9},{"x":2,"y":9,"d":9.1},{"x":3,"y":9,"d":9.1},{"x":4,"y":9,"d":9.1},{"x":5,"y":9,"d":6.5},{"x":6,"y":9,"d":5.2},{"x":7,"y":9,"d":7.8},{"x":8,"y":9,"d":1.4},{"x":9,"y":9,"d":1.4},{"x":10,"y":9,"d":1.4},{"x":11,"y":9,"d":7.8},{"x":12,"y":9,"d":5.2},{"x":13,"y":9,"d":6.5},{"x":14,"y":9,"d":9.1},{"x":15,"y":9,"d":9.1},{"x":16,"y":9,"d":9.1},{"x":17,"y":9,"d":11.6},{"x":18,"y":9,"d":14.2},{"x":19,"y":9,"d":15.5},{"x":20,"y":9,"d":16.8},{"x":21,"y":9,"d":19.3},{"x":38,"y":9,"d":18},
{"x":1,"y":8,"d":9.1},{"x":2,"y":8,"d":9.1},{"x":3,"y":8,"d":9.1},{"x":4,"y":8,"d":6.5},{"x":5,"y":8,"d":5.2},{"x":6,"y":8,"d":7.8},{"x":7,"y":8,"d":1.4},{"x":8,"y":8,"d":1.4},{"x":9,"y":8,"d":1.4},{"x":10,"y":8,"d":7.8},{"x":11,"y":8,"d":5.2},{"x":12,"y":8,"d":6.5},{"x":13,"y":8,"d":9.1},{"x":14,"y":8,"d":9.1},{"x":15,"y":8,"d":9.1},{"x":16,"y":8,"d":11.6},{"x":17,"y":8,"d":14.2},{"x":18,"y":8,"d":15.5},{"x":19,"y":8,"d":16.8},{"x":20,"y":8,"d":19.3},
{"x":1,"y":7,"d":9.1},{"x":2,"y":7,"d":9.1},{"x":3,"y":7,"d":6.5},{"x":4,"y":7,"d":5.2},{"x":5,"y":7,"d":7.8},{"x":6,"y":7,"d":1.4},{"x":7,"y":7,"d":1.4},{"x":8,"y":7,"d":1.4},{"x":9,"y":7,"d":7.8},{"x":10,"y":7,"d":5.2},{"x":11,"y":7,"d":6.5},{"x":12,"y":7,"d":9.1},{"x":13,"y":7,"d":9.1},{"x":14,"y":7,"d":9.1},{"x":15,"y":7,"d":11.6},{"x":16,"y":7,"d":14.2},{"x":17,"y":7,"d":15.5},{"x":18,"y":7,"d":16.8},{"x":19,"y":7,"d":19.3},
{"x":1,"y":6,"d":9.1},{"x":2,"y":6,"d":12.9},{"x":3,"y":6,"d":5.2},{"x":4,"y":6,"d":7.8},{"x":5,"y":6,"d":1.4},{"x":6,"y":6,"d":1.4},{"x":7,"y":6,"d":1.4},{"x":8,"y":6,"d":7.8},{"x":9,"y":6,"d":5.2},{"x":10,"y":6,"d":6.5},{"x":11,"y":6,"d":9.1},{"x":12,"y":6,"d":9.1},{"x":13,"y":6,"d":9.1},{"x":14,"y":6,"d":11.6},{"x":15,"y":6,"d":14.2},{"x":16,"y":6,"d":15.5},{"x":17,"y":6,"d":16.8},{"x":18,"y":6,"d":19.3},
{"x":1,"y":5,"d":12.9},{"x":2,"y":5,"d":9.1},{"x":3,"y":5,"d":7.8},{"x":4,"y":5,"d":1.4},{"x":5,"y":5,"d":1.4},{"x":6,"y":5,"d":1.4},{"x":7,"y":5,"d":7.8},{"x":8,"y":5,"d":5.2},{"x":9,"y":5,"d":6.5},{"x":10,"y":5,"d":9.1},{"x":11,"y":5,"d":9.1},{"x":12,"y":5,"d":9.1},{"x":13,"y":5,"d":11.6},{"x":14,"y":5,"d":14.2},{"x":15,"y":5,"d":15.5},{"x":16,"y":5,"d":16.8},{"x":17,"y":5,"d":19.3},{"x":18,"y":5,"d":19.3},{"x":19,"y":5,"d":19.3},{"x":20,"y":5,"d":19.3},
{"x":1,"y":4,"d":10.4},{"x":2,"y":4,"d":7.8},{"x":3,"y":4,"d":1.4},{"x":4,"y":4,"d":1.4},{"x":5,"y":4,"d":1.4},{"x":6,"y":4,"d":7.8},{"x":7,"y":4,"d":5.2},{"x":8,"y":4,"d":6.5},{"x":9,"y":4,"d":9.1},{"x":10,"y":4,"d":9.1},{"x":11,"y":4,"d":9.1},{"x":12,"y":4,"d":11.6},{"x":13,"y":4,"d":14.2},{"x":14,"y":4,"d":15.5},{"x":15,"y":4,"d":16.8},{"x":16,"y":4,"d":19.3},
{"x":1,"y":3,"d":7.8},{"x":2,"y":3,"d":1.4},{"x":3,"y":3,"d":1.4},{"x":4,"y":3,"d":1.4},{"x":5,"y":3,"d":7.8},{"x":6,"y":3,"d":5.2},{"x":7,"y":3,"d":6.5},{"x":8,"y":3,"d":9.1},{"x":9,"y":3,"d":9.1},{"x":10,"y":3,"d":9.1},{"x":11,"y":3,"d":14.2},{"x":12,"y":3,"d":14.2},{"x":13,"y":3,"d":15.5},{"x":14,"y":3,"d":16.8},{"x":15,"y":3,"d":19.3},
{"x":1,"y":2,"d":1.4},{"x":2,"y":2,"d":1.4},{"x":3,"y":2,"d":1.4},{"x":4,"y":2,"d":7.8},{"x":5,"y":2,"d":9.1},{"x":6,"y":2,"d":12.9},{"x":7,"y":2,"d":9.1},{"x":8,"y":2,"d":9.1},{"x":9,"y":2,"d":9.1},{"x":10,"y":2,"d":12.9},{"x":12,"y":2,"d":14.2},{"x":13,"y":2,"d":16.8},{"x":14,"y":2,"d":18},{"x":15,"y":2,"d":18},
{"x":1,"y":1,"d":1.4},{"x":2,"y":1,"d":1.4},{"x":3,"y":1,"d":7.8},{"x":4,"y":1,"d":9.1},{"x":5,"y":1,"d":14.2},{"x":6,"y":1,"d":9.1},{"x":7,"y":1,"d":9.1},{"x":8,"y":1,"d":9.1},{"x":9,"y":1,"d":14.2},{"x":11,"y":1,"d":16.8},{"x":12,"y":1,"d":15.5},{"x":13,"y":1,"d":18}
]},"mark":{"type":"rect","strokeWidth":1},"encoding":{"x":{"field":"x","type":"quantitative","bin":{"step":1,"extent":[0.5,84.5],"nice":false},"scale":{"domain":[0.5,84.5],"nice":false,"zero":false},"axis":{"values":[20,40,60,80],"title":"Residue index","grid":false,"domain":false,"tickSize":9,"tickWidth":1,"tickColor":"#444444","labelFont":"Liberation Sans","labelFontWeight":"bold","labelFontSize":60,"labelColor":"black","labelPadding":-3,"titleFont":"Liberation Sans","titleFontWeight":"bold","titleFontSize":60,"titleColor":"black","titlePadding":-4,"labelFlush":false}},"y":{"field":"y","type":"quantitative","bin":{"step":1,"extent":[0.5,84.5],"nice":false},"scale":{"domain":[0.5,84.5],"nice":false,"zero":false},"axis":{"values":[20,40,60,80],"title":"Residue index","grid":false,"domain":false,"tickSize":9,"tickWidth":1,"tickColor":"#444444","labelFont":"Liberation Sans","labelFontWeight":"bold","labelFontSize":60,"labelColor":"black","labelPadding":0,"titleFont":"Liberation Sans","titleFontWeight":"bold","titleFontSize":60,"titleColor":"black","titlePadding":2,"labelFlush":false}},"color":{"field":"d","type":"quantitative","scale":{"type":"threshold","domain":[2.02,3.31,4.59,5.87,7.15,8.43,9.72,11,12.28,13.56,14.85,16.13,17.41,18.69,19.97],"range":["#ff0000","#ff2a00","#ff4d00","#ff6600","#ff8800","#ffa500","#a5bf85","#9bb78c","#91b093","#87a899","#7da1a0","#7399a7","#6992ad","#5f8ab4","#5582ba","#0000ff"]},"legend":null},"stroke":{"field":"d","type":"quantitative","scale":{"type":"threshold","domain":[2.02,3.31,4.59,5.87,7.15,8.43,9.72,11,12.28,13.56,14.85,16.13,17.41,18.69,19.97],"range":["#ff0000","#ff2a00","#ff4d00","#ff6600","#ff8800","#ffa500","#a5bf85","#9bb78c","#91b093","#87a899","#7da1a0","#7399a7","#6992ad","#5f8ab4","#5582ba","#0000ff"]},"legend":null}}},{"data":{"values":[{"x":1,"y":1}]},"mark":{"type":"rect","opacity":0},"encoding":{"x":{"field":"x","type":"quantitative","bin":{"step":1,"extent":[0.5,84.5],"nice":false},"scale":{"domain":[0.5,84.5],"nice":false,"zero":false},"axis":{"orient":"top","values":[20,40,60,80],"labels":false,"title":null,"grid":false,"domain":false,"tickSize":9,"tickWidth":1,"tickColor":"#444444"}},"y":{"field":"y","type":"quantitative","bin":{"step":1,"extent":[0.5,84.5],"nice":false},"scale":{"domain":[0.5,84.5],"nice":false,"zero":false},"axis":{"orient":"right","values":[20,40,60,80],"labels":false,"title":null,"grid":false,"domain":false,"tickSize":9,"tickWidth":1,"tickColor":"#444444"}}}}],"resolve":{"axis":{"x":"independent","y":"independent"}}},{"width":12,"height":1697,"view":{"stroke":"#444444","strokeWidth":1},"data":{"values":[{"lo":0.74,"hi":2.02,"d":1.4},{"lo":2.02,"hi":3.31,"d":2.7},{"lo":3.31,"hi":4.59,"d":3.9},{"lo":4.59,"hi":5.87,"d":5.2},{"lo":5.87,"hi":7.15,"d":6.5},{"lo":7.15,"hi":8.43,"d":7.8},{"lo":8.43,"hi":9.72,"d":9.1},{"lo":9.72,"hi":11,"d":10.4},{"lo":11,"hi":12.28,"d":11.6},{"lo":12.28,"hi":13.56,"d":12.9},{"lo":13.56,"hi":14.85,"d":14.2},{"lo":14.85,"hi":16.13,"d":15.5},{"lo":16.13,"hi":17.41,"d":16.8},{"lo":17.41,"hi":18.69,"d":18},{"lo":18.69,"hi":19.97,"d":19.3},{"lo":19.97,"hi":21.26,"d":20.6}]},"mark":{"type":"rect"},"encoding":{"y":{"field":"lo","type":"quantitative","scale":{"domain":[0.74,21.26],"nice":false,"zero":false},"axis":{"orient":"right","values":[5,10,15,20],"title":null,"grid":false,"domain":false,"tickSize":5,"tickWidth":1,"tickColor":"#444444","labelFont":"Liberation Sans","labelFontWeight":"bold","labelFontSize":46,"labelColor":"black","labelPadding":4,"labelFlush":false}},"y2":{"field":"hi"},"color":{"field":"d","type":"quantitative","scale":{"type":"threshold","domain":[2.02,3.31,4.59,5.87,7.15,8.43,9.72,11,12.28,13.56,14.85,16.13,17.41,18.69,19.97],"range":["#ff0000","#ff2a00","#ff4d00","#ff6600","#ff8800","#ffa500","#a5bf85","#9bb78c","#91b093","#87a899","#7da1a0","#7399a7","#6992ad","#5f8ab4","#5582ba","#0000ff"]},"legend":null}}}],"resolve":{"scale":{"color":"independent","stroke":"independent"}}}
